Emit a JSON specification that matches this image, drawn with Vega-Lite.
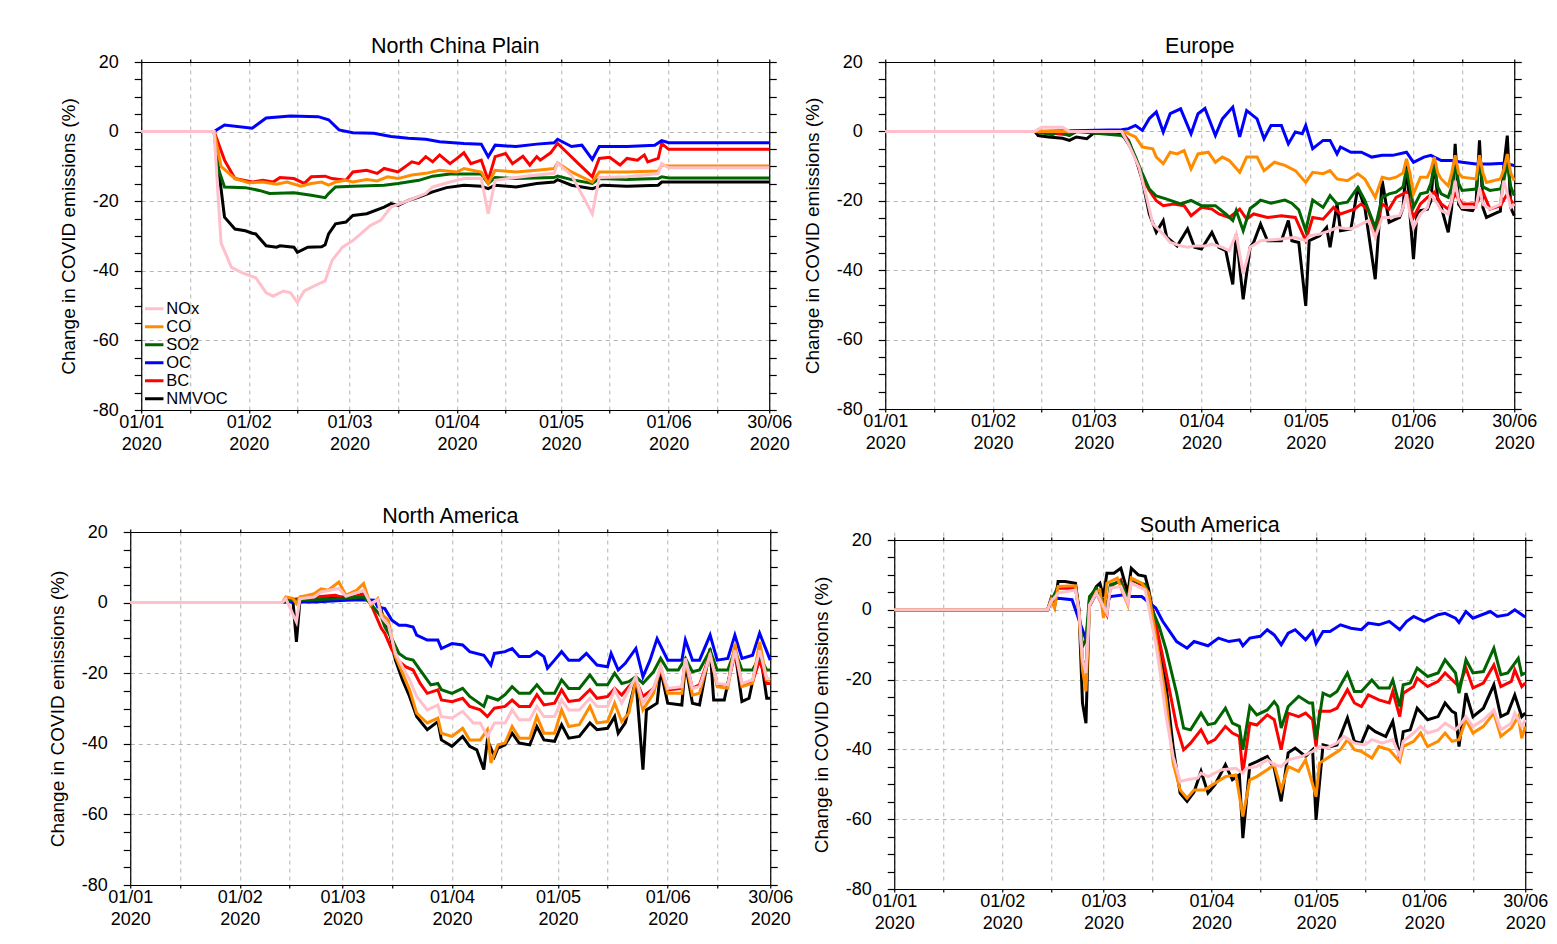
{
  "$schema": "https://vega.github.io/schema/vega-lite/v6.json",
  "padding": {"left": 48, "top": 35, "right": 5, "bottom": 5},
  "background": "white",
  "config": {
    "font": "Liberation Sans",
    "view": {"stroke": null},
    "axis": {
      "domainColor": "#000000", "domainWidth": 1.2, "tickColor": "#000000", "tickWidth": 1.2,
      "labelFont": "Liberation Sans", "labelFontSize": 18, "labelColor": "#000000",
      "titleFont": "Liberation Sans", "titleFontSize": 19, "titleFontWeight": "normal", "titleColor": "#000000",
      "gridColor": "#b4b4b4", "gridDash": [4, 4], "gridWidth": 1,
      "labelFlush": false, "labelOverlap": false
    },
    "axisLeft": {"tickSize": 7, "labelPadding": 16, "titlePadding": 14},
    "axisRight": {"tickSize": 7, "labels": false, "grid": false},
    "axisBottom": {"tickSize": 3, "labelPadding": 0, "labelLineHeight": 22},
    "axisTop": {"tickSize": 3, "labels": false, "grid": false},
    "title": {"font": "Liberation Sans", "fontSize": 21.5, "fontWeight": "normal", "color": "#000000", "offset": -4, "anchor": "middle", "frame": "group"},
    "line": {"strokeWidth": 3}
  },
  "datasets": {
    "ncp": [
      {"s":"NMVOC","t":"2020-01-01","v":0},{"s":"NMVOC","t":"2020-01-22","v":0},{"s":"NMVOC","t":"2020-01-25","v":-24.6},{"s":"NMVOC","t":"2020-01-28","v":-28},{"s":"NMVOC","t":"2020-01-31","v":-28.5},{"s":"NMVOC","t":"2020-02-02","v":-29.2},{"s":"NMVOC","t":"2020-02-03","v":-29.4},{"s":"NMVOC","t":"2020-02-06","v":-32.8},{"s":"NMVOC","t":"2020-02-09","v":-33.2},{"s":"NMVOC","t":"2020-02-10","v":-32.8},{"s":"NMVOC","t":"2020-02-14","v":-33.2},{"s":"NMVOC","t":"2020-02-15","v":-34.7},{"s":"NMVOC","t":"2020-02-18","v":-33.2},{"s":"NMVOC","t":"2020-02-22","v":-33.1},{"s":"NMVOC","t":"2020-02-23","v":-32.5},{"s":"NMVOC","t":"2020-02-24","v":-29.4},{"s":"NMVOC","t":"2020-02-26","v":-26.5},{"s":"NMVOC","t":"2020-02-29","v":-26},{"s":"NMVOC","t":"2020-03-02","v":-24.1},{"s":"NMVOC","t":"2020-03-06","v":-23.6},{"s":"NMVOC","t":"2020-03-11","v":-21.7},{"s":"NMVOC","t":"2020-03-13","v":-20.7},{"s":"NMVOC","t":"2020-03-15","v":-21.2},{"s":"NMVOC","t":"2020-03-18","v":-19.8},{"s":"NMVOC","t":"2020-03-21","v":-18.8},{"s":"NMVOC","t":"2020-03-25","v":-17.3},{"s":"NMVOC","t":"2020-03-29","v":-16.1},{"s":"NMVOC","t":"2020-04-03","v":-15.4},{"s":"NMVOC","t":"2020-04-08","v":-15.7},{"s":"NMVOC","t":"2020-04-10","v":-16.4},{"s":"NMVOC","t":"2020-04-12","v":-15.4},{"s":"NMVOC","t":"2020-04-18","v":-15.9},{"s":"NMVOC","t":"2020-04-24","v":-14.9},{"s":"NMVOC","t":"2020-04-29","v":-14.5},{"s":"NMVOC","t":"2020-04-30","v":-13.8},{"s":"NMVOC","t":"2020-05-04","v":-15.4},{"s":"NMVOC","t":"2020-05-10","v":-16.4},{"s":"NMVOC","t":"2020-05-13","v":-15.4},{"s":"NMVOC","t":"2020-05-20","v":-15.7},{"s":"NMVOC","t":"2020-05-29","v":-15.4},{"s":"NMVOC","t":"2020-05-30","v":-14.5},{"s":"NMVOC","t":"2020-06-30","v":-14.5},
      {"s":"BC","t":"2020-01-01","v":0},{"s":"BC","t":"2020-01-22","v":0},{"s":"BC","t":"2020-01-25","v":-8.2},{"s":"BC","t":"2020-01-28","v":-13.5},{"s":"BC","t":"2020-02-02","v":-14.5},{"s":"BC","t":"2020-02-05","v":-14},{"s":"BC","t":"2020-02-08","v":-14.5},{"s":"BC","t":"2020-02-10","v":-13.2},{"s":"BC","t":"2020-02-14","v":-13.5},{"s":"BC","t":"2020-02-17","v":-14.9},{"s":"BC","t":"2020-02-19","v":-13},{"s":"BC","t":"2020-02-23","v":-12.8},{"s":"BC","t":"2020-02-25","v":-13.5},{"s":"BC","t":"2020-02-29","v":-14},{"s":"BC","t":"2020-03-02","v":-11.6},{"s":"BC","t":"2020-03-06","v":-11.1},{"s":"BC","t":"2020-03-09","v":-12},{"s":"BC","t":"2020-03-11","v":-10.6},{"s":"BC","t":"2020-03-15","v":-11.6},{"s":"BC","t":"2020-03-19","v":-8.7},{"s":"BC","t":"2020-03-21","v":-9.2},{"s":"BC","t":"2020-03-23","v":-7.2},{"s":"BC","t":"2020-03-25","v":-8.7},{"s":"BC","t":"2020-03-27","v":-6.7},{"s":"BC","t":"2020-03-30","v":-9.2},{"s":"BC","t":"2020-04-01","v":-7.7},{"s":"BC","t":"2020-04-03","v":-6.1},{"s":"BC","t":"2020-04-05","v":-9.2},{"s":"BC","t":"2020-04-08","v":-8.2},{"s":"BC","t":"2020-04-10","v":-14},{"s":"BC","t":"2020-04-12","v":-7.2},{"s":"BC","t":"2020-04-15","v":-6.3},{"s":"BC","t":"2020-04-17","v":-9.2},{"s":"BC","t":"2020-04-20","v":-7.1},{"s":"BC","t":"2020-04-22","v":-9.6},{"s":"BC","t":"2020-04-24","v":-7.2},{"s":"BC","t":"2020-04-25","v":-8.2},{"s":"BC","t":"2020-04-28","v":-6.1},{"s":"BC","t":"2020-04-30","v":-3.4},{"s":"BC","t":"2020-05-03","v":-6.3},{"s":"BC","t":"2020-05-06","v":-9.2},{"s":"BC","t":"2020-05-10","v":-13},{"s":"BC","t":"2020-05-12","v":-7.7},{"s":"BC","t":"2020-05-15","v":-7.4},{"s":"BC","t":"2020-05-18","v":-9.6},{"s":"BC","t":"2020-05-20","v":-7.7},{"s":"BC","t":"2020-05-23","v":-8.2},{"s":"BC","t":"2020-05-25","v":-6.7},{"s":"BC","t":"2020-05-26","v":-8.7},{"s":"BC","t":"2020-05-29","v":-7.7},{"s":"BC","t":"2020-05-30","v":-3.4},{"s":"BC","t":"2020-06-01","v":-5.1},{"s":"BC","t":"2020-06-30","v":-5.1},
      {"s":"OC","t":"2020-01-01","v":0},{"s":"OC","t":"2020-01-22","v":0},{"s":"OC","t":"2020-01-25","v":1.9},{"s":"OC","t":"2020-02-02","v":1},{"s":"OC","t":"2020-02-06","v":3.9},{"s":"OC","t":"2020-02-13","v":4.5},{"s":"OC","t":"2020-02-21","v":4.3},{"s":"OC","t":"2020-02-24","v":3.4},{"s":"OC","t":"2020-02-27","v":0.5},{"s":"OC","t":"2020-03-02","v":-0.3},{"s":"OC","t":"2020-03-08","v":-0.5},{"s":"OC","t":"2020-03-13","v":-1.4},{"s":"OC","t":"2020-03-18","v":-1.9},{"s":"OC","t":"2020-03-23","v":-2.2},{"s":"OC","t":"2020-03-27","v":-2.9},{"s":"OC","t":"2020-04-03","v":-3.4},{"s":"OC","t":"2020-04-08","v":-3.6},{"s":"OC","t":"2020-04-10","v":-7.2},{"s":"OC","t":"2020-04-12","v":-3.9},{"s":"OC","t":"2020-04-18","v":-4.3},{"s":"OC","t":"2020-04-24","v":-3.6},{"s":"OC","t":"2020-04-29","v":-3.2},{"s":"OC","t":"2020-04-30","v":-2.2},{"s":"OC","t":"2020-05-04","v":-4.3},{"s":"OC","t":"2020-05-07","v":-3.9},{"s":"OC","t":"2020-05-10","v":-8},{"s":"OC","t":"2020-05-12","v":-4.3},{"s":"OC","t":"2020-05-20","v":-4.3},{"s":"OC","t":"2020-05-28","v":-3.9},{"s":"OC","t":"2020-05-30","v":-2.6},{"s":"OC","t":"2020-06-01","v":-3.2},{"s":"OC","t":"2020-06-30","v":-3.2},
      {"s":"SO2","t":"2020-01-01","v":0},{"s":"SO2","t":"2020-01-22","v":0},{"s":"SO2","t":"2020-01-23","v":-10},{"s":"SO2","t":"2020-01-25","v":-15.9},{"s":"SO2","t":"2020-01-31","v":-16.1},{"s":"SO2","t":"2020-02-04","v":-16.9},{"s":"SO2","t":"2020-02-07","v":-17.8},{"s":"SO2","t":"2020-02-14","v":-17.6},{"s":"SO2","t":"2020-02-19","v":-18.3},{"s":"SO2","t":"2020-02-23","v":-19},{"s":"SO2","t":"2020-02-24","v":-17.8},{"s":"SO2","t":"2020-02-26","v":-15.9},{"s":"SO2","t":"2020-03-02","v":-15.7},{"s":"SO2","t":"2020-03-11","v":-15.4},{"s":"SO2","t":"2020-03-15","v":-14.9},{"s":"SO2","t":"2020-03-21","v":-14},{"s":"SO2","t":"2020-03-25","v":-12.8},{"s":"SO2","t":"2020-03-30","v":-12.2},{"s":"SO2","t":"2020-04-08","v":-12.2},{"s":"SO2","t":"2020-04-10","v":-14.9},{"s":"SO2","t":"2020-04-12","v":-13.2},{"s":"SO2","t":"2020-04-18","v":-13.5},{"s":"SO2","t":"2020-04-29","v":-13.2},{"s":"SO2","t":"2020-04-30","v":-12.8},{"s":"SO2","t":"2020-05-04","v":-13.8},{"s":"SO2","t":"2020-05-10","v":-14.9},{"s":"SO2","t":"2020-05-12","v":-13.5},{"s":"SO2","t":"2020-05-20","v":-13.8},{"s":"SO2","t":"2020-05-29","v":-13.5},{"s":"SO2","t":"2020-05-30","v":-13},{"s":"SO2","t":"2020-06-01","v":-13.3},{"s":"SO2","t":"2020-06-30","v":-13.3},
      {"s":"CO","t":"2020-01-01","v":0},{"s":"CO","t":"2020-01-22","v":0},{"s":"CO","t":"2020-01-24","v":-10},{"s":"CO","t":"2020-01-28","v":-13.5},{"s":"CO","t":"2020-02-01","v":-14.7},{"s":"CO","t":"2020-02-05","v":-14.5},{"s":"CO","t":"2020-02-09","v":-15.1},{"s":"CO","t":"2020-02-12","v":-14.5},{"s":"CO","t":"2020-02-16","v":-15.7},{"s":"CO","t":"2020-02-19","v":-14.9},{"s":"CO","t":"2020-02-22","v":-14.5},{"s":"CO","t":"2020-02-24","v":-15.4},{"s":"CO","t":"2020-02-26","v":-14.5},{"s":"CO","t":"2020-02-29","v":-14},{"s":"CO","t":"2020-03-02","v":-14.5},{"s":"CO","t":"2020-03-06","v":-13.8},{"s":"CO","t":"2020-03-09","v":-14.2},{"s":"CO","t":"2020-03-12","v":-13},{"s":"CO","t":"2020-03-15","v":-13.5},{"s":"CO","t":"2020-03-19","v":-12.5},{"s":"CO","t":"2020-03-23","v":-12},{"s":"CO","t":"2020-03-27","v":-11.1},{"s":"CO","t":"2020-04-01","v":-11.6},{"s":"CO","t":"2020-04-03","v":-10.6},{"s":"CO","t":"2020-04-08","v":-11.6},{"s":"CO","t":"2020-04-10","v":-14.9},{"s":"CO","t":"2020-04-12","v":-11.1},{"s":"CO","t":"2020-04-18","v":-11.6},{"s":"CO","t":"2020-04-24","v":-11.1},{"s":"CO","t":"2020-04-29","v":-10.6},{"s":"CO","t":"2020-04-30","v":-9},{"s":"CO","t":"2020-05-04","v":-11.6},{"s":"CO","t":"2020-05-10","v":-14.5},{"s":"CO","t":"2020-05-12","v":-11.6},{"s":"CO","t":"2020-05-20","v":-11.6},{"s":"CO","t":"2020-05-29","v":-11.3},{"s":"CO","t":"2020-05-30","v":-9.6},{"s":"CO","t":"2020-06-01","v":-9.9},{"s":"CO","t":"2020-06-30","v":-9.9},
      {"s":"NOx","t":"2020-01-01","v":0},{"s":"NOx","t":"2020-01-22","v":0},{"s":"NOx","t":"2020-01-24","v":-32},{"s":"NOx","t":"2020-01-27","v":-39},{"s":"NOx","t":"2020-01-30","v":-40.5},{"s":"NOx","t":"2020-02-03","v":-42},{"s":"NOx","t":"2020-02-06","v":-46.3},{"s":"NOx","t":"2020-02-08","v":-47.3},{"s":"NOx","t":"2020-02-11","v":-45.8},{"s":"NOx","t":"2020-02-13","v":-46.3},{"s":"NOx","t":"2020-02-15","v":-49.1},{"s":"NOx","t":"2020-02-17","v":-45.8},{"s":"NOx","t":"2020-02-20","v":-44.3},{"s":"NOx","t":"2020-02-23","v":-42.9},{"s":"NOx","t":"2020-02-25","v":-37},{"s":"NOx","t":"2020-02-28","v":-33.2},{"s":"NOx","t":"2020-03-02","v":-31.3},{"s":"NOx","t":"2020-03-07","v":-27},{"s":"NOx","t":"2020-03-10","v":-25.5},{"s":"NOx","t":"2020-03-13","v":-21.7},{"s":"NOx","t":"2020-03-18","v":-19.8},{"s":"NOx","t":"2020-03-23","v":-17.8},{"s":"NOx","t":"2020-03-25","v":-15.9},{"s":"NOx","t":"2020-03-30","v":-14.5},{"s":"NOx","t":"2020-04-03","v":-13.5},{"s":"NOx","t":"2020-04-08","v":-13.5},{"s":"NOx","t":"2020-04-10","v":-23.6},{"s":"NOx","t":"2020-04-12","v":-14},{"s":"NOx","t":"2020-04-18","v":-13.2},{"s":"NOx","t":"2020-04-24","v":-12.5},{"s":"NOx","t":"2020-04-29","v":-12},{"s":"NOx","t":"2020-04-30","v":-9},{"s":"NOx","t":"2020-05-04","v":-12.5},{"s":"NOx","t":"2020-05-10","v":-23.6},{"s":"NOx","t":"2020-05-12","v":-13.2},{"s":"NOx","t":"2020-05-20","v":-13},{"s":"NOx","t":"2020-05-29","v":-12.1},{"s":"NOx","t":"2020-05-30","v":-9.2},{"s":"NOx","t":"2020-06-01","v":-10.4},{"s":"NOx","t":"2020-06-30","v":-10.4}
    ],
    "eur": [
      {"s":"NMVOC","t":"2020-01-01","v":0},{"s":"NMVOC","t":"2020-02-13","v":0},{"s":"NMVOC","t":"2020-02-14","v":-1.2},{"s":"NMVOC","t":"2020-02-17","v":-1.6},{"s":"NMVOC","t":"2020-02-21","v":-2},{"s":"NMVOC","t":"2020-02-23","v":-2.6},{"s":"NMVOC","t":"2020-02-25","v":-1.6},{"s":"NMVOC","t":"2020-02-28","v":-2.1},{"s":"NMVOC","t":"2020-03-01","v":-0.5},{"s":"NMVOC","t":"2020-03-07","v":-0.2},{"s":"NMVOC","t":"2020-03-09","v":-0.5},{"s":"NMVOC","t":"2020-03-11","v":-3.6},{"s":"NMVOC","t":"2020-03-13","v":-7.5},{"s":"NMVOC","t":"2020-03-15","v":-14.2},{"s":"NMVOC","t":"2020-03-17","v":-23.8},{"s":"NMVOC","t":"2020-03-19","v":-29.1},{"s":"NMVOC","t":"2020-03-21","v":-25.7},{"s":"NMVOC","t":"2020-03-22","v":-30.5},{"s":"NMVOC","t":"2020-03-25","v":-33},{"s":"NMVOC","t":"2020-03-28","v":-28.1},{"s":"NMVOC","t":"2020-03-30","v":-33.4},{"s":"NMVOC","t":"2020-04-01","v":-33.9},{"s":"NMVOC","t":"2020-04-04","v":-29.1},{"s":"NMVOC","t":"2020-04-06","v":-33.4},{"s":"NMVOC","t":"2020-04-08","v":-34.4},{"s":"NMVOC","t":"2020-04-10","v":-44.1},{"s":"NMVOC","t":"2020-04-11","v":-29.6},{"s":"NMVOC","t":"2020-04-13","v":-48.4},{"s":"NMVOC","t":"2020-04-15","v":-33.4},{"s":"NMVOC","t":"2020-04-16","v":-32},{"s":"NMVOC","t":"2020-04-18","v":-26.7},{"s":"NMVOC","t":"2020-04-20","v":-31.5},{"s":"NMVOC","t":"2020-04-24","v":-31.5},{"s":"NMVOC","t":"2020-04-26","v":-25.7},{"s":"NMVOC","t":"2020-04-27","v":-31.5},{"s":"NMVOC","t":"2020-04-29","v":-32},{"s":"NMVOC","t":"2020-05-01","v":-50.3},{"s":"NMVOC","t":"2020-05-02","v":-31.5},{"s":"NMVOC","t":"2020-05-05","v":-30.1},{"s":"NMVOC","t":"2020-05-07","v":-27.7},{"s":"NMVOC","t":"2020-05-08","v":-33.4},{"s":"NMVOC","t":"2020-05-10","v":-20.9},{"s":"NMVOC","t":"2020-05-11","v":-28.6},{"s":"NMVOC","t":"2020-05-14","v":-28.1},{"s":"NMVOC","t":"2020-05-16","v":-16.1},{"s":"NMVOC","t":"2020-05-18","v":-21.9},{"s":"NMVOC","t":"2020-05-21","v":-42.6},{"s":"NMVOC","t":"2020-05-23","v":-14.2},{"s":"NMVOC","t":"2020-05-25","v":-26.2},{"s":"NMVOC","t":"2020-05-28","v":-24.8},{"s":"NMVOC","t":"2020-05-29","v":-22},{"s":"NMVOC","t":"2020-05-30","v":-8.9},{"s":"NMVOC","t":"2020-05-31","v":-24},{"s":"NMVOC","t":"2020-06-01","v":-36.8},{"s":"NMVOC","t":"2020-06-02","v":-24},{"s":"NMVOC","t":"2020-06-03","v":-22.8},{"s":"NMVOC","t":"2020-06-05","v":-22.4},{"s":"NMVOC","t":"2020-06-06","v":-20},{"s":"NMVOC","t":"2020-06-07","v":-7.9},{"s":"NMVOC","t":"2020-06-08","v":-20},{"s":"NMVOC","t":"2020-06-09","v":-21.9},{"s":"NMVOC","t":"2020-06-11","v":-29.1},{"s":"NMVOC","t":"2020-06-12","v":-22},{"s":"NMVOC","t":"2020-06-13","v":-3.6},{"s":"NMVOC","t":"2020-06-14","v":-21},{"s":"NMVOC","t":"2020-06-15","v":-22.4},{"s":"NMVOC","t":"2020-06-18","v":-22.8},{"s":"NMVOC","t":"2020-06-19","v":-21},{"s":"NMVOC","t":"2020-06-20","v":-2.6},{"s":"NMVOC","t":"2020-06-21","v":-22},{"s":"NMVOC","t":"2020-06-22","v":-24.8},{"s":"NMVOC","t":"2020-06-25","v":-23.4},{"s":"NMVOC","t":"2020-06-26","v":-23},{"s":"NMVOC","t":"2020-06-27","v":-10},{"s":"NMVOC","t":"2020-06-28","v":-1.2},{"s":"NMVOC","t":"2020-06-29","v":-22},{"s":"NMVOC","t":"2020-06-30","v":-24.3},
      {"s":"BC","t":"2020-01-01","v":0},{"s":"BC","t":"2020-02-13","v":0},{"s":"BC","t":"2020-02-23","v":-1},{"s":"BC","t":"2020-02-25","v":0},{"s":"BC","t":"2020-03-09","v":0},{"s":"BC","t":"2020-03-11","v":-2.6},{"s":"BC","t":"2020-03-13","v":-7.9},{"s":"BC","t":"2020-03-15","v":-13.2},{"s":"BC","t":"2020-03-17","v":-17},{"s":"BC","t":"2020-03-19","v":-20},{"s":"BC","t":"2020-03-21","v":-21.4},{"s":"BC","t":"2020-03-24","v":-20.9},{"s":"BC","t":"2020-03-27","v":-21.4},{"s":"BC","t":"2020-03-29","v":-24.3},{"s":"BC","t":"2020-04-01","v":-21.9},{"s":"BC","t":"2020-04-04","v":-22.4},{"s":"BC","t":"2020-04-06","v":-23.8},{"s":"BC","t":"2020-04-09","v":-24.8},{"s":"BC","t":"2020-04-12","v":-22.4},{"s":"BC","t":"2020-04-14","v":-25.3},{"s":"BC","t":"2020-04-16","v":-23.8},{"s":"BC","t":"2020-04-20","v":-24.8},{"s":"BC","t":"2020-04-24","v":-24.3},{"s":"BC","t":"2020-04-28","v":-24.8},{"s":"BC","t":"2020-05-01","v":-31.5},{"s":"BC","t":"2020-05-03","v":-24.8},{"s":"BC","t":"2020-05-06","v":-25.3},{"s":"BC","t":"2020-05-09","v":-21.9},{"s":"BC","t":"2020-05-11","v":-23.8},{"s":"BC","t":"2020-05-15","v":-22.4},{"s":"BC","t":"2020-05-17","v":-20.9},{"s":"BC","t":"2020-05-19","v":-22.8},{"s":"BC","t":"2020-05-21","v":-28.6},{"s":"BC","t":"2020-05-23","v":-20.9},{"s":"BC","t":"2020-05-25","v":-22.4},{"s":"BC","t":"2020-05-27","v":-19},{"s":"BC","t":"2020-05-30","v":-17.5},{"s":"BC","t":"2020-06-01","v":-24.8},{"s":"BC","t":"2020-06-03","v":-20.9},{"s":"BC","t":"2020-06-05","v":-19},{"s":"BC","t":"2020-06-07","v":-17.5},{"s":"BC","t":"2020-06-09","v":-20.9},{"s":"BC","t":"2020-06-11","v":-22.4},{"s":"BC","t":"2020-06-13","v":-18},{"s":"BC","t":"2020-06-15","v":-20.9},{"s":"BC","t":"2020-06-19","v":-20.9},{"s":"BC","t":"2020-06-21","v":-17.5},{"s":"BC","t":"2020-06-23","v":-22.4},{"s":"BC","t":"2020-06-26","v":-21.4},{"s":"BC","t":"2020-06-28","v":-18},{"s":"BC","t":"2020-06-30","v":-21.4},
      {"s":"OC","t":"2020-01-01","v":0},{"s":"OC","t":"2020-02-13","v":0},{"s":"OC","t":"2020-03-09","v":0.5},{"s":"OC","t":"2020-03-11","v":0.8},{"s":"OC","t":"2020-03-13","v":1.7},{"s":"OC","t":"2020-03-15","v":0.3},{"s":"OC","t":"2020-03-17","v":3.7},{"s":"OC","t":"2020-03-19","v":5.6},{"s":"OC","t":"2020-03-21","v":-0.2},{"s":"OC","t":"2020-03-23","v":5.1},{"s":"OC","t":"2020-03-26","v":6.5},{"s":"OC","t":"2020-03-29","v":-0.7},{"s":"OC","t":"2020-03-31","v":5.1},{"s":"OC","t":"2020-04-02","v":6.6},{"s":"OC","t":"2020-04-05","v":-1.2},{"s":"OC","t":"2020-04-07","v":3.6},{"s":"OC","t":"2020-04-10","v":7},{"s":"OC","t":"2020-04-12","v":-1.6},{"s":"OC","t":"2020-04-14","v":6},{"s":"OC","t":"2020-04-17","v":3.6},{"s":"OC","t":"2020-04-19","v":-2.1},{"s":"OC","t":"2020-04-21","v":1.7},{"s":"OC","t":"2020-04-24","v":1.7},{"s":"OC","t":"2020-04-26","v":-3.6},{"s":"OC","t":"2020-04-28","v":-0.2},{"s":"OC","t":"2020-04-30","v":-0.7},{"s":"OC","t":"2020-05-01","v":1.7},{"s":"OC","t":"2020-05-03","v":-5},{"s":"OC","t":"2020-05-06","v":-2.6},{"s":"OC","t":"2020-05-08","v":-2.6},{"s":"OC","t":"2020-05-10","v":-6.5},{"s":"OC","t":"2020-05-11","v":-4.5},{"s":"OC","t":"2020-05-14","v":-6},{"s":"OC","t":"2020-05-17","v":-6},{"s":"OC","t":"2020-05-20","v":-7.4},{"s":"OC","t":"2020-05-23","v":-6.9},{"s":"OC","t":"2020-05-26","v":-6.9},{"s":"OC","t":"2020-05-30","v":-6},{"s":"OC","t":"2020-06-01","v":-8.9},{"s":"OC","t":"2020-06-04","v":-7.4},{"s":"OC","t":"2020-06-06","v":-6.9},{"s":"OC","t":"2020-06-09","v":-8.4},{"s":"OC","t":"2020-06-12","v":-8.4},{"s":"OC","t":"2020-06-15","v":-8.9},{"s":"OC","t":"2020-06-19","v":-9.4},{"s":"OC","t":"2020-06-23","v":-9.4},{"s":"OC","t":"2020-06-27","v":-9.2},{"s":"OC","t":"2020-06-30","v":-9.8},
      {"s":"SO2","t":"2020-01-01","v":0},{"s":"SO2","t":"2020-02-13","v":0},{"s":"SO2","t":"2020-02-18","v":-1},{"s":"SO2","t":"2020-02-20","v":0},{"s":"SO2","t":"2020-02-23","v":-1.2},{"s":"SO2","t":"2020-02-25","v":0},{"s":"SO2","t":"2020-03-09","v":-1.2},{"s":"SO2","t":"2020-03-11","v":-2.6},{"s":"SO2","t":"2020-03-13","v":-7.4},{"s":"SO2","t":"2020-03-15","v":-12.2},{"s":"SO2","t":"2020-03-17","v":-16.6},{"s":"SO2","t":"2020-03-19","v":-18.6},{"s":"SO2","t":"2020-03-22","v":-19.5},{"s":"SO2","t":"2020-03-26","v":-20.9},{"s":"SO2","t":"2020-03-29","v":-19.9},{"s":"SO2","t":"2020-04-01","v":-21.4},{"s":"SO2","t":"2020-04-05","v":-21.4},{"s":"SO2","t":"2020-04-08","v":-23.8},{"s":"SO2","t":"2020-04-10","v":-25.7},{"s":"SO2","t":"2020-04-11","v":-22.8},{"s":"SO2","t":"2020-04-13","v":-28.6},{"s":"SO2","t":"2020-04-15","v":-22.2},{"s":"SO2","t":"2020-04-17","v":-20.7},{"s":"SO2","t":"2020-04-18","v":-19.8},{"s":"SO2","t":"2020-04-21","v":-20.7},{"s":"SO2","t":"2020-04-25","v":-19.8},{"s":"SO2","t":"2020-04-27","v":-20.7},{"s":"SO2","t":"2020-04-29","v":-22.6},{"s":"SO2","t":"2020-05-01","v":-28.6},{"s":"SO2","t":"2020-05-03","v":-19.8},{"s":"SO2","t":"2020-05-06","v":-21.9},{"s":"SO2","t":"2020-05-08","v":-18.5},{"s":"SO2","t":"2020-05-10","v":-20.9},{"s":"SO2","t":"2020-05-13","v":-20.4},{"s":"SO2","t":"2020-05-16","v":-16.1},{"s":"SO2","t":"2020-05-18","v":-19.9},{"s":"SO2","t":"2020-05-21","v":-27.7},{"s":"SO2","t":"2020-05-23","v":-19},{"s":"SO2","t":"2020-05-25","v":-18},{"s":"SO2","t":"2020-05-27","v":-17.5},{"s":"SO2","t":"2020-05-29","v":-16},{"s":"SO2","t":"2020-05-30","v":-10.8},{"s":"SO2","t":"2020-05-31","v":-16},{"s":"SO2","t":"2020-06-01","v":-21.9},{"s":"SO2","t":"2020-06-03","v":-18},{"s":"SO2","t":"2020-06-05","v":-17.5},{"s":"SO2","t":"2020-06-06","v":-15},{"s":"SO2","t":"2020-06-07","v":-9.8},{"s":"SO2","t":"2020-06-08","v":-16},{"s":"SO2","t":"2020-06-09","v":-18},{"s":"SO2","t":"2020-06-11","v":-19},{"s":"SO2","t":"2020-06-12","v":-16},{"s":"SO2","t":"2020-06-13","v":-7.9},{"s":"SO2","t":"2020-06-14","v":-15},{"s":"SO2","t":"2020-06-15","v":-17},{"s":"SO2","t":"2020-06-19","v":-16.6},{"s":"SO2","t":"2020-06-20","v":-8.4},{"s":"SO2","t":"2020-06-21","v":-16},{"s":"SO2","t":"2020-06-23","v":-17},{"s":"SO2","t":"2020-06-26","v":-16.6},{"s":"SO2","t":"2020-06-27","v":-14},{"s":"SO2","t":"2020-06-28","v":-8.9},{"s":"SO2","t":"2020-06-29","v":-16},{"s":"SO2","t":"2020-06-30","v":-18.5},
      {"s":"CO","t":"2020-01-01","v":0},{"s":"CO","t":"2020-02-13","v":0},{"s":"CO","t":"2020-03-09","v":0},{"s":"CO","t":"2020-03-10","v":-0.2},{"s":"CO","t":"2020-03-13","v":-1.6},{"s":"CO","t":"2020-03-15","v":-4.5},{"s":"CO","t":"2020-03-18","v":-5},{"s":"CO","t":"2020-03-19","v":-7.4},{"s":"CO","t":"2020-03-21","v":-9.3},{"s":"CO","t":"2020-03-23","v":-6},{"s":"CO","t":"2020-03-25","v":-6.5},{"s":"CO","t":"2020-03-27","v":-5.5},{"s":"CO","t":"2020-03-29","v":-10.8},{"s":"CO","t":"2020-03-31","v":-6.5},{"s":"CO","t":"2020-04-03","v":-6},{"s":"CO","t":"2020-04-05","v":-8.9},{"s":"CO","t":"2020-04-07","v":-7.4},{"s":"CO","t":"2020-04-09","v":-8.4},{"s":"CO","t":"2020-04-12","v":-11.8},{"s":"CO","t":"2020-04-14","v":-7.4},{"s":"CO","t":"2020-04-17","v":-7.4},{"s":"CO","t":"2020-04-19","v":-11.3},{"s":"CO","t":"2020-04-22","v":-8.9},{"s":"CO","t":"2020-04-25","v":-9.8},{"s":"CO","t":"2020-04-28","v":-11.3},{"s":"CO","t":"2020-05-01","v":-14.7},{"s":"CO","t":"2020-05-03","v":-11.8},{"s":"CO","t":"2020-05-06","v":-12.2},{"s":"CO","t":"2020-05-08","v":-11.3},{"s":"CO","t":"2020-05-10","v":-13.7},{"s":"CO","t":"2020-05-13","v":-14.2},{"s":"CO","t":"2020-05-16","v":-12.2},{"s":"CO","t":"2020-05-18","v":-13.7},{"s":"CO","t":"2020-05-21","v":-19},{"s":"CO","t":"2020-05-23","v":-13.2},{"s":"CO","t":"2020-05-25","v":-13.7},{"s":"CO","t":"2020-05-27","v":-13.2},{"s":"CO","t":"2020-05-29","v":-12},{"s":"CO","t":"2020-05-30","v":-7.9},{"s":"CO","t":"2020-05-31","v":-12},{"s":"CO","t":"2020-06-01","v":-18},{"s":"CO","t":"2020-06-03","v":-13.2},{"s":"CO","t":"2020-06-05","v":-13.2},{"s":"CO","t":"2020-06-06","v":-11},{"s":"CO","t":"2020-06-07","v":-7.4},{"s":"CO","t":"2020-06-08","v":-12},{"s":"CO","t":"2020-06-09","v":-13.7},{"s":"CO","t":"2020-06-11","v":-15.7},{"s":"CO","t":"2020-06-12","v":-12},{"s":"CO","t":"2020-06-13","v":-6.9},{"s":"CO","t":"2020-06-14","v":-12},{"s":"CO","t":"2020-06-15","v":-13.2},{"s":"CO","t":"2020-06-19","v":-13.7},{"s":"CO","t":"2020-06-20","v":-6.9},{"s":"CO","t":"2020-06-21","v":-12},{"s":"CO","t":"2020-06-22","v":-14.7},{"s":"CO","t":"2020-06-26","v":-13.7},{"s":"CO","t":"2020-06-27","v":-11},{"s":"CO","t":"2020-06-28","v":-6.5},{"s":"CO","t":"2020-06-29","v":-12},{"s":"CO","t":"2020-06-30","v":-14.2},
      {"s":"NOx","t":"2020-01-01","v":0},{"s":"NOx","t":"2020-02-13","v":0},{"s":"NOx","t":"2020-02-15","v":1.2},{"s":"NOx","t":"2020-02-21","v":1.2},{"s":"NOx","t":"2020-02-23","v":0},{"s":"NOx","t":"2020-03-09","v":0},{"s":"NOx","t":"2020-03-11","v":-3.6},{"s":"NOx","t":"2020-03-14","v":-10.3},{"s":"NOx","t":"2020-03-16","v":-18.1},{"s":"NOx","t":"2020-03-18","v":-26.7},{"s":"NOx","t":"2020-03-21","v":-29.6},{"s":"NOx","t":"2020-03-23","v":-32},{"s":"NOx","t":"2020-03-26","v":-33},{"s":"NOx","t":"2020-03-28","v":-33.4},{"s":"NOx","t":"2020-03-30","v":-33},{"s":"NOx","t":"2020-04-02","v":-33},{"s":"NOx","t":"2020-04-04","v":-32.5},{"s":"NOx","t":"2020-04-07","v":-33.4},{"s":"NOx","t":"2020-04-09","v":-34.4},{"s":"NOx","t":"2020-04-11","v":-29.6},{"s":"NOx","t":"2020-04-13","v":-41.1},{"s":"NOx","t":"2020-04-15","v":-33.4},{"s":"NOx","t":"2020-04-18","v":-31.5},{"s":"NOx","t":"2020-04-24","v":-31},{"s":"NOx","t":"2020-04-28","v":-30.5},{"s":"NOx","t":"2020-05-01","v":-31.5},{"s":"NOx","t":"2020-05-02","v":-30.1},{"s":"NOx","t":"2020-05-05","v":-29.6},{"s":"NOx","t":"2020-05-08","v":-28.6},{"s":"NOx","t":"2020-05-10","v":-27.7},{"s":"NOx","t":"2020-05-14","v":-28.1},{"s":"NOx","t":"2020-05-16","v":-27.2},{"s":"NOx","t":"2020-05-19","v":-25.7},{"s":"NOx","t":"2020-05-21","v":-30.5},{"s":"NOx","t":"2020-05-23","v":-24.8},{"s":"NOx","t":"2020-05-25","v":-24.8},{"s":"NOx","t":"2020-05-28","v":-24.3},{"s":"NOx","t":"2020-05-29","v":-22},{"s":"NOx","t":"2020-05-30","v":-18.1},{"s":"NOx","t":"2020-05-31","v":-24},{"s":"NOx","t":"2020-06-01","v":-27.7},{"s":"NOx","t":"2020-06-03","v":-23.8},{"s":"NOx","t":"2020-06-05","v":-22},{"s":"NOx","t":"2020-06-06","v":-18.1},{"s":"NOx","t":"2020-06-08","v":-21},{"s":"NOx","t":"2020-06-09","v":-22.8},{"s":"NOx","t":"2020-06-11","v":-23.8},{"s":"NOx","t":"2020-06-12","v":-20},{"s":"NOx","t":"2020-06-13","v":-14.2},{"s":"NOx","t":"2020-06-14","v":-20},{"s":"NOx","t":"2020-06-15","v":-21.9},{"s":"NOx","t":"2020-06-19","v":-21.9},{"s":"NOx","t":"2020-06-20","v":-16.1},{"s":"NOx","t":"2020-06-21","v":-21},{"s":"NOx","t":"2020-06-23","v":-22.4},{"s":"NOx","t":"2020-06-26","v":-21},{"s":"NOx","t":"2020-06-27","v":-14.2},{"s":"NOx","t":"2020-06-29","v":-21.9},{"s":"NOx","t":"2020-06-30","v":-20.9}
    ],
    "nam": [
      {"s":"NMVOC","t":"2020-01-01","v":0},{"s":"NMVOC","t":"2020-02-13","v":0},{"s":"NMVOC","t":"2020-02-14","v":0.7},{"s":"NMVOC","t":"2020-02-16","v":0.7},{"s":"NMVOC","t":"2020-02-17","v":-11.1},{"s":"NMVOC","t":"2020-02-18","v":0.7},{"s":"NMVOC","t":"2020-02-22","v":1.1},{"s":"NMVOC","t":"2020-02-26","v":1.1},{"s":"NMVOC","t":"2020-03-01","v":1.6},{"s":"NMVOC","t":"2020-03-05","v":1.1},{"s":"NMVOC","t":"2020-03-08","v":1.6},{"s":"NMVOC","t":"2020-03-09","v":-0.3},{"s":"NMVOC","t":"2020-03-11","v":0.7},{"s":"NMVOC","t":"2020-03-12","v":-2.2},{"s":"NMVOC","t":"2020-03-13","v":-6},{"s":"NMVOC","t":"2020-03-14","v":-6.9},{"s":"NMVOC","t":"2020-03-16","v":-16.3},{"s":"NMVOC","t":"2020-03-18","v":-21.9},{"s":"NMVOC","t":"2020-03-20","v":-26.6},{"s":"NMVOC","t":"2020-03-22","v":-32.3},{"s":"NMVOC","t":"2020-03-25","v":-36},{"s":"NMVOC","t":"2020-03-28","v":-33.7},{"s":"NMVOC","t":"2020-03-29","v":-38.9},{"s":"NMVOC","t":"2020-04-01","v":-40.7},{"s":"NMVOC","t":"2020-04-04","v":-37.9},{"s":"NMVOC","t":"2020-04-06","v":-40.7},{"s":"NMVOC","t":"2020-04-08","v":-41.7},{"s":"NMVOC","t":"2020-04-10","v":-47.3},{"s":"NMVOC","t":"2020-04-11","v":-38.9},{"s":"NMVOC","t":"2020-04-13","v":-43.6},{"s":"NMVOC","t":"2020-04-14","v":-41.2},{"s":"NMVOC","t":"2020-04-16","v":-40.3},{"s":"NMVOC","t":"2020-04-18","v":-37},{"s":"NMVOC","t":"2020-04-20","v":-39.8},{"s":"NMVOC","t":"2020-04-23","v":-40.3},{"s":"NMVOC","t":"2020-04-25","v":-35.1},{"s":"NMVOC","t":"2020-04-27","v":-38.9},{"s":"NMVOC","t":"2020-04-30","v":-39.3},{"s":"NMVOC","t":"2020-05-02","v":-34.6},{"s":"NMVOC","t":"2020-05-04","v":-38.4},{"s":"NMVOC","t":"2020-05-07","v":-37.9},{"s":"NMVOC","t":"2020-05-10","v":-34.1},{"s":"NMVOC","t":"2020-05-12","v":-36},{"s":"NMVOC","t":"2020-05-15","v":-35.6},{"s":"NMVOC","t":"2020-05-17","v":-32.3},{"s":"NMVOC","t":"2020-05-18","v":-37},{"s":"NMVOC","t":"2020-05-20","v":-34.1},{"s":"NMVOC","t":"2020-05-23","v":-21.9},{"s":"NMVOC","t":"2020-05-25","v":-47.3},{"s":"NMVOC","t":"2020-05-26","v":-30.4},{"s":"NMVOC","t":"2020-05-29","v":-28.5},{"s":"NMVOC","t":"2020-05-30","v":-19.1},{"s":"NMVOC","t":"2020-06-01","v":-28.5},{"s":"NMVOC","t":"2020-06-05","v":-29},{"s":"NMVOC","t":"2020-06-06","v":-17.2},{"s":"NMVOC","t":"2020-06-08","v":-28.5},{"s":"NMVOC","t":"2020-06-10","v":-29},{"s":"NMVOC","t":"2020-06-13","v":-13},{"s":"NMVOC","t":"2020-06-14","v":-27.6},{"s":"NMVOC","t":"2020-06-17","v":-27.6},{"s":"NMVOC","t":"2020-06-20","v":-13.5},{"s":"NMVOC","t":"2020-06-22","v":-28},{"s":"NMVOC","t":"2020-06-24","v":-27.1},{"s":"NMVOC","t":"2020-06-27","v":-13},{"s":"NMVOC","t":"2020-06-29","v":-27.1},{"s":"NMVOC","t":"2020-06-30","v":-27.1},
      {"s":"BC","t":"2020-01-01","v":0},{"s":"BC","t":"2020-02-13","v":0},{"s":"BC","t":"2020-02-14","v":0.7},{"s":"BC","t":"2020-02-22","v":1.6},{"s":"BC","t":"2020-02-28","v":2.1},{"s":"BC","t":"2020-03-02","v":1.1},{"s":"BC","t":"2020-03-07","v":2.5},{"s":"BC","t":"2020-03-09","v":-0.3},{"s":"BC","t":"2020-03-12","v":-7.3},{"s":"BC","t":"2020-03-13","v":-8.7},{"s":"BC","t":"2020-03-15","v":-13.4},{"s":"BC","t":"2020-03-17","v":-16.7},{"s":"BC","t":"2020-03-19","v":-18.2},{"s":"BC","t":"2020-03-21","v":-19.1},{"s":"BC","t":"2020-03-23","v":-22.9},{"s":"BC","t":"2020-03-25","v":-25.7},{"s":"BC","t":"2020-03-28","v":-24.7},{"s":"BC","t":"2020-03-29","v":-27.6},{"s":"BC","t":"2020-04-01","v":-28.1},{"s":"BC","t":"2020-04-04","v":-27.1},{"s":"BC","t":"2020-04-06","v":-29.4},{"s":"BC","t":"2020-04-09","v":-30.4},{"s":"BC","t":"2020-04-11","v":-32.3},{"s":"BC","t":"2020-04-13","v":-29.9},{"s":"BC","t":"2020-04-16","v":-29.4},{"s":"BC","t":"2020-04-18","v":-27.6},{"s":"BC","t":"2020-04-20","v":-29.4},{"s":"BC","t":"2020-04-23","v":-29.4},{"s":"BC","t":"2020-04-25","v":-26.1},{"s":"BC","t":"2020-04-27","v":-29},{"s":"BC","t":"2020-04-30","v":-28.5},{"s":"BC","t":"2020-05-02","v":-24.7},{"s":"BC","t":"2020-05-04","v":-28},{"s":"BC","t":"2020-05-07","v":-27.6},{"s":"BC","t":"2020-05-10","v":-24.7},{"s":"BC","t":"2020-05-12","v":-27.1},{"s":"BC","t":"2020-05-15","v":-26.6},{"s":"BC","t":"2020-05-17","v":-24.3},{"s":"BC","t":"2020-05-19","v":-26.2},{"s":"BC","t":"2020-05-21","v":-23.8},{"s":"BC","t":"2020-05-23","v":-21.9},{"s":"BC","t":"2020-05-25","v":-26.6},{"s":"BC","t":"2020-05-28","v":-24.3},{"s":"BC","t":"2020-05-30","v":-19.1},{"s":"BC","t":"2020-06-01","v":-24.7},{"s":"BC","t":"2020-06-05","v":-24.3},{"s":"BC","t":"2020-06-06","v":-15.8},{"s":"BC","t":"2020-06-08","v":-24.3},{"s":"BC","t":"2020-06-10","v":-23.3},{"s":"BC","t":"2020-06-13","v":-14.4},{"s":"BC","t":"2020-06-15","v":-23.3},{"s":"BC","t":"2020-06-18","v":-23.3},{"s":"BC","t":"2020-06-20","v":-14.4},{"s":"BC","t":"2020-06-22","v":-23.3},{"s":"BC","t":"2020-06-25","v":-22.4},{"s":"BC","t":"2020-06-27","v":-16.3},{"s":"BC","t":"2020-06-29","v":-22.9},{"s":"BC","t":"2020-06-30","v":-22.9},
      {"s":"OC","t":"2020-01-01","v":0},{"s":"OC","t":"2020-02-13","v":0},{"s":"OC","t":"2020-02-14","v":0.2},{"s":"OC","t":"2020-02-22","v":0.2},{"s":"OC","t":"2020-03-02","v":0.7},{"s":"OC","t":"2020-03-07","v":0.8},{"s":"OC","t":"2020-03-10","v":0.7},{"s":"OC","t":"2020-03-11","v":-1.2},{"s":"OC","t":"2020-03-13","v":-1.7},{"s":"OC","t":"2020-03-15","v":-5},{"s":"OC","t":"2020-03-17","v":-6.4},{"s":"OC","t":"2020-03-19","v":-6.4},{"s":"OC","t":"2020-03-21","v":-6.9},{"s":"OC","t":"2020-03-22","v":-9.2},{"s":"OC","t":"2020-03-25","v":-10.6},{"s":"OC","t":"2020-03-28","v":-10.6},{"s":"OC","t":"2020-03-29","v":-13},{"s":"OC","t":"2020-04-01","v":-11.6},{"s":"OC","t":"2020-04-04","v":-12},{"s":"OC","t":"2020-04-06","v":-13.9},{"s":"OC","t":"2020-04-10","v":-14.9},{"s":"OC","t":"2020-04-12","v":-17.7},{"s":"OC","t":"2020-04-13","v":-14.4},{"s":"OC","t":"2020-04-16","v":-13.9},{"s":"OC","t":"2020-04-18","v":-13},{"s":"OC","t":"2020-04-20","v":-15.3},{"s":"OC","t":"2020-04-23","v":-15.3},{"s":"OC","t":"2020-04-25","v":-13.9},{"s":"OC","t":"2020-04-27","v":-15.3},{"s":"OC","t":"2020-04-28","v":-18.6},{"s":"OC","t":"2020-04-30","v":-16.3},{"s":"OC","t":"2020-05-02","v":-13.9},{"s":"OC","t":"2020-05-04","v":-16.3},{"s":"OC","t":"2020-05-07","v":-16.3},{"s":"OC","t":"2020-05-09","v":-14.4},{"s":"OC","t":"2020-05-12","v":-17.7},{"s":"OC","t":"2020-05-15","v":-18.2},{"s":"OC","t":"2020-05-16","v":-14.4},{"s":"OC","t":"2020-05-18","v":-19.1},{"s":"OC","t":"2020-05-20","v":-17.2},{"s":"OC","t":"2020-05-23","v":-13},{"s":"OC","t":"2020-05-25","v":-21},{"s":"OC","t":"2020-05-27","v":-16.3},{"s":"OC","t":"2020-05-29","v":-10.2},{"s":"OC","t":"2020-06-01","v":-16.3},{"s":"OC","t":"2020-06-05","v":-16.3},{"s":"OC","t":"2020-06-06","v":-10.6},{"s":"OC","t":"2020-06-08","v":-16.3},{"s":"OC","t":"2020-06-10","v":-16.3},{"s":"OC","t":"2020-06-13","v":-9.2},{"s":"OC","t":"2020-06-15","v":-16.3},{"s":"OC","t":"2020-06-18","v":-15.8},{"s":"OC","t":"2020-06-20","v":-9.2},{"s":"OC","t":"2020-06-22","v":-15.8},{"s":"OC","t":"2020-06-25","v":-14.9},{"s":"OC","t":"2020-06-27","v":-8.7},{"s":"OC","t":"2020-06-30","v":-16.3},
      {"s":"SO2","t":"2020-01-01","v":0},{"s":"SO2","t":"2020-02-13","v":0},{"s":"SO2","t":"2020-02-14","v":0.7},{"s":"SO2","t":"2020-02-22","v":0.8},{"s":"SO2","t":"2020-02-28","v":1.1},{"s":"SO2","t":"2020-03-07","v":1.6},{"s":"SO2","t":"2020-03-09","v":-0.3},{"s":"SO2","t":"2020-03-12","v":-4},{"s":"SO2","t":"2020-03-13","v":-6.9},{"s":"SO2","t":"2020-03-15","v":-10.2},{"s":"SO2","t":"2020-03-17","v":-14.4},{"s":"SO2","t":"2020-03-19","v":-15.8},{"s":"SO2","t":"2020-03-21","v":-16.3},{"s":"SO2","t":"2020-03-23","v":-19.1},{"s":"SO2","t":"2020-03-26","v":-23.3},{"s":"SO2","t":"2020-03-28","v":-22.9},{"s":"SO2","t":"2020-03-29","v":-24.7},{"s":"SO2","t":"2020-04-01","v":-25.7},{"s":"SO2","t":"2020-04-04","v":-24.3},{"s":"SO2","t":"2020-04-06","v":-26.6},{"s":"SO2","t":"2020-04-10","v":-29.4},{"s":"SO2","t":"2020-04-11","v":-26.6},{"s":"SO2","t":"2020-04-14","v":-27.6},{"s":"SO2","t":"2020-04-16","v":-26.1},{"s":"SO2","t":"2020-04-18","v":-23.8},{"s":"SO2","t":"2020-04-20","v":-25.7},{"s":"SO2","t":"2020-04-23","v":-25.7},{"s":"SO2","t":"2020-04-25","v":-23.3},{"s":"SO2","t":"2020-04-27","v":-25.7},{"s":"SO2","t":"2020-04-30","v":-25.7},{"s":"SO2","t":"2020-05-02","v":-21.9},{"s":"SO2","t":"2020-05-04","v":-24.3},{"s":"SO2","t":"2020-05-07","v":-24.3},{"s":"SO2","t":"2020-05-10","v":-20.5},{"s":"SO2","t":"2020-05-12","v":-23.3},{"s":"SO2","t":"2020-05-15","v":-23.3},{"s":"SO2","t":"2020-05-17","v":-20},{"s":"SO2","t":"2020-05-19","v":-22.9},{"s":"SO2","t":"2020-05-21","v":-22.4},{"s":"SO2","t":"2020-05-23","v":-21},{"s":"SO2","t":"2020-05-25","v":-22.9},{"s":"SO2","t":"2020-05-28","v":-19.6},{"s":"SO2","t":"2020-05-30","v":-15.8},{"s":"SO2","t":"2020-06-01","v":-19.1},{"s":"SO2","t":"2020-06-04","v":-19.1},{"s":"SO2","t":"2020-06-06","v":-15.8},{"s":"SO2","t":"2020-06-08","v":-19.6},{"s":"SO2","t":"2020-06-10","v":-19.1},{"s":"SO2","t":"2020-06-13","v":-13.5},{"s":"SO2","t":"2020-06-15","v":-19.1},{"s":"SO2","t":"2020-06-18","v":-19.1},{"s":"SO2","t":"2020-06-20","v":-13.5},{"s":"SO2","t":"2020-06-22","v":-19.1},{"s":"SO2","t":"2020-06-25","v":-19.1},{"s":"SO2","t":"2020-06-27","v":-15.3},{"s":"SO2","t":"2020-06-29","v":-19.1},{"s":"SO2","t":"2020-06-30","v":-19.1},
      {"s":"CO","t":"2020-01-01","v":0},{"s":"CO","t":"2020-02-13","v":0},{"s":"CO","t":"2020-02-14","v":1.6},{"s":"CO","t":"2020-02-16","v":1.2},{"s":"CO","t":"2020-02-17","v":-0.3},{"s":"CO","t":"2020-02-18","v":1.6},{"s":"CO","t":"2020-02-20","v":2},{"s":"CO","t":"2020-02-22","v":2.5},{"s":"CO","t":"2020-02-24","v":3.9},{"s":"CO","t":"2020-02-26","v":3.5},{"s":"CO","t":"2020-02-29","v":5.8},{"s":"CO","t":"2020-03-02","v":2.1},{"s":"CO","t":"2020-03-05","v":3.5},{"s":"CO","t":"2020-03-07","v":5.4},{"s":"CO","t":"2020-03-09","v":-0.8},{"s":"CO","t":"2020-03-11","v":1.1},{"s":"CO","t":"2020-03-12","v":-3.1},{"s":"CO","t":"2020-03-14","v":-5},{"s":"CO","t":"2020-03-16","v":-15.3},{"s":"CO","t":"2020-03-18","v":-20},{"s":"CO","t":"2020-03-20","v":-24.7},{"s":"CO","t":"2020-03-22","v":-31.3},{"s":"CO","t":"2020-03-25","v":-34.1},{"s":"CO","t":"2020-03-28","v":-32.7},{"s":"CO","t":"2020-03-29","v":-37},{"s":"CO","t":"2020-04-01","v":-37.9},{"s":"CO","t":"2020-04-04","v":-35.6},{"s":"CO","t":"2020-04-06","v":-38.9},{"s":"CO","t":"2020-04-09","v":-38.9},{"s":"CO","t":"2020-04-11","v":-36},{"s":"CO","t":"2020-04-12","v":-45.4},{"s":"CO","t":"2020-04-14","v":-40.3},{"s":"CO","t":"2020-04-16","v":-39.8},{"s":"CO","t":"2020-04-18","v":-35.1},{"s":"CO","t":"2020-04-20","v":-38.4},{"s":"CO","t":"2020-04-23","v":-38.4},{"s":"CO","t":"2020-04-25","v":-32.3},{"s":"CO","t":"2020-04-27","v":-37},{"s":"CO","t":"2020-04-30","v":-37},{"s":"CO","t":"2020-05-02","v":-30.4},{"s":"CO","t":"2020-05-04","v":-35.1},{"s":"CO","t":"2020-05-07","v":-34.6},{"s":"CO","t":"2020-05-10","v":-29.4},{"s":"CO","t":"2020-05-12","v":-34.1},{"s":"CO","t":"2020-05-15","v":-33.7},{"s":"CO","t":"2020-05-17","v":-28.5},{"s":"CO","t":"2020-05-19","v":-33.7},{"s":"CO","t":"2020-05-21","v":-31.3},{"s":"CO","t":"2020-05-23","v":-21.9},{"s":"CO","t":"2020-05-25","v":-30.4},{"s":"CO","t":"2020-05-28","v":-25.7},{"s":"CO","t":"2020-05-30","v":-18.2},{"s":"CO","t":"2020-06-01","v":-25.7},{"s":"CO","t":"2020-06-05","v":-25.7},{"s":"CO","t":"2020-06-06","v":-16.3},{"s":"CO","t":"2020-06-08","v":-26.2},{"s":"CO","t":"2020-06-10","v":-25.7},{"s":"CO","t":"2020-06-13","v":-14.4},{"s":"CO","t":"2020-06-15","v":-23.8},{"s":"CO","t":"2020-06-18","v":-24.3},{"s":"CO","t":"2020-06-20","v":-11.6},{"s":"CO","t":"2020-06-22","v":-23.8},{"s":"CO","t":"2020-06-25","v":-22.9},{"s":"CO","t":"2020-06-27","v":-11.1},{"s":"CO","t":"2020-06-29","v":-21.9},{"s":"CO","t":"2020-06-30","v":-21.9},
      {"s":"NOx","t":"2020-01-01","v":0},{"s":"NOx","t":"2020-02-13","v":0},{"s":"NOx","t":"2020-02-14","v":1.1},{"s":"NOx","t":"2020-02-17","v":-5.5},{"s":"NOx","t":"2020-02-18","v":1.1},{"s":"NOx","t":"2020-02-22","v":1.6},{"s":"NOx","t":"2020-02-24","v":3},{"s":"NOx","t":"2020-02-29","v":4},{"s":"NOx","t":"2020-03-02","v":1.8},{"s":"NOx","t":"2020-03-07","v":3.5},{"s":"NOx","t":"2020-03-09","v":-0.3},{"s":"NOx","t":"2020-03-11","v":0.8},{"s":"NOx","t":"2020-03-12","v":-4},{"s":"NOx","t":"2020-03-14","v":-6.4},{"s":"NOx","t":"2020-03-16","v":-14.4},{"s":"NOx","t":"2020-03-18","v":-18.2},{"s":"NOx","t":"2020-03-20","v":-21.9},{"s":"NOx","t":"2020-03-22","v":-26.6},{"s":"NOx","t":"2020-03-25","v":-30.4},{"s":"NOx","t":"2020-03-28","v":-29},{"s":"NOx","t":"2020-03-29","v":-32.3},{"s":"NOx","t":"2020-04-01","v":-32.7},{"s":"NOx","t":"2020-04-04","v":-30.8},{"s":"NOx","t":"2020-04-07","v":-34.1},{"s":"NOx","t":"2020-04-09","v":-34.1},{"s":"NOx","t":"2020-04-11","v":-37.9},{"s":"NOx","t":"2020-04-13","v":-34.1},{"s":"NOx","t":"2020-04-16","v":-34.1},{"s":"NOx","t":"2020-04-18","v":-30.4},{"s":"NOx","t":"2020-04-20","v":-33.2},{"s":"NOx","t":"2020-04-23","v":-33.2},{"s":"NOx","t":"2020-04-25","v":-29.4},{"s":"NOx","t":"2020-04-27","v":-32.3},{"s":"NOx","t":"2020-04-30","v":-32.3},{"s":"NOx","t":"2020-05-02","v":-27.6},{"s":"NOx","t":"2020-05-04","v":-30.4},{"s":"NOx","t":"2020-05-07","v":-30.4},{"s":"NOx","t":"2020-05-10","v":-27.1},{"s":"NOx","t":"2020-05-12","v":-29.4},{"s":"NOx","t":"2020-05-15","v":-29.4},{"s":"NOx","t":"2020-05-17","v":-24.7},{"s":"NOx","t":"2020-05-19","v":-28.5},{"s":"NOx","t":"2020-05-21","v":-24.7},{"s":"NOx","t":"2020-05-23","v":-21},{"s":"NOx","t":"2020-05-25","v":-28.5},{"s":"NOx","t":"2020-05-28","v":-24.3},{"s":"NOx","t":"2020-05-30","v":-18.2},{"s":"NOx","t":"2020-06-01","v":-24.3},{"s":"NOx","t":"2020-06-05","v":-23.8},{"s":"NOx","t":"2020-06-06","v":-15.8},{"s":"NOx","t":"2020-06-08","v":-24.3},{"s":"NOx","t":"2020-06-10","v":-23.8},{"s":"NOx","t":"2020-06-13","v":-14.9},{"s":"NOx","t":"2020-06-15","v":-22.9},{"s":"NOx","t":"2020-06-18","v":-23.3},{"s":"NOx","t":"2020-06-20","v":-13.5},{"s":"NOx","t":"2020-06-22","v":-22.9},{"s":"NOx","t":"2020-06-25","v":-21.9},{"s":"NOx","t":"2020-06-27","v":-13.5},{"s":"NOx","t":"2020-06-29","v":-21.5},{"s":"NOx","t":"2020-06-30","v":-21.5}
    ],
    "sam": [
      {"s":"NMVOC","t":"2020-01-01","v":0},{"s":"NMVOC","t":"2020-02-14","v":0},{"s":"NMVOC","t":"2020-02-15","v":3.3},{"s":"NMVOC","t":"2020-02-16","v":1},{"s":"NMVOC","t":"2020-02-17","v":8.1},{"s":"NMVOC","t":"2020-02-19","v":8.1},{"s":"NMVOC","t":"2020-02-22","v":7.6},{"s":"NMVOC","t":"2020-02-23","v":0},{"s":"NMVOC","t":"2020-02-24","v":-26.7},{"s":"NMVOC","t":"2020-02-25","v":-32.5},{"s":"NMVOC","t":"2020-02-26","v":2.9},{"s":"NMVOC","t":"2020-02-28","v":6.7},{"s":"NMVOC","t":"2020-02-29","v":7.6},{"s":"NMVOC","t":"2020-03-01","v":3.8},{"s":"NMVOC","t":"2020-03-02","v":10.5},{"s":"NMVOC","t":"2020-03-04","v":10.5},{"s":"NMVOC","t":"2020-03-06","v":11.9},{"s":"NMVOC","t":"2020-03-08","v":4.8},{"s":"NMVOC","t":"2020-03-09","v":11.9},{"s":"NMVOC","t":"2020-03-11","v":10},{"s":"NMVOC","t":"2020-03-13","v":9.6},{"s":"NMVOC","t":"2020-03-14","v":5.7},{"s":"NMVOC","t":"2020-03-16","v":-4.8},{"s":"NMVOC","t":"2020-03-17","v":-11.5},{"s":"NMVOC","t":"2020-03-19","v":-21.9},{"s":"NMVOC","t":"2020-03-21","v":-39.2},{"s":"NMVOC","t":"2020-03-23","v":-52.5},{"s":"NMVOC","t":"2020-03-25","v":-54.9},{"s":"NMVOC","t":"2020-03-27","v":-52.2},{"s":"NMVOC","t":"2020-03-29","v":-46.3},{"s":"NMVOC","t":"2020-03-31","v":-52.5},{"s":"NMVOC","t":"2020-04-02","v":-50.1},{"s":"NMVOC","t":"2020-04-05","v":-44.4},{"s":"NMVOC","t":"2020-04-07","v":-48.7},{"s":"NMVOC","t":"2020-04-09","v":-47.3},{"s":"NMVOC","t":"2020-04-10","v":-65.4},{"s":"NMVOC","t":"2020-04-12","v":-44.4},{"s":"NMVOC","t":"2020-04-14","v":-43.5},{"s":"NMVOC","t":"2020-04-17","v":-42},{"s":"NMVOC","t":"2020-04-19","v":-45.4},{"s":"NMVOC","t":"2020-04-21","v":-54.9},{"s":"NMVOC","t":"2020-04-23","v":-41},{"s":"NMVOC","t":"2020-04-25","v":-39.6},{"s":"NMVOC","t":"2020-04-28","v":-42},{"s":"NMVOC","t":"2020-04-30","v":-40.1},{"s":"NMVOC","t":"2020-05-01","v":-60.2},{"s":"NMVOC","t":"2020-05-03","v":-38.7},{"s":"NMVOC","t":"2020-05-05","v":-39.2},{"s":"NMVOC","t":"2020-05-07","v":-38.7},{"s":"NMVOC","t":"2020-05-10","v":-31},{"s":"NMVOC","t":"2020-05-12","v":-37.7},{"s":"NMVOC","t":"2020-05-14","v":-38.2},{"s":"NMVOC","t":"2020-05-16","v":-33.4},{"s":"NMVOC","t":"2020-05-18","v":-34.9},{"s":"NMVOC","t":"2020-05-21","v":-36.3},{"s":"NMVOC","t":"2020-05-23","v":-32},{"s":"NMVOC","t":"2020-05-25","v":-42.5},{"s":"NMVOC","t":"2020-05-26","v":-34.9},{"s":"NMVOC","t":"2020-05-28","v":-34.4},{"s":"NMVOC","t":"2020-05-30","v":-28.2},{"s":"NMVOC","t":"2020-06-02","v":-31.5},{"s":"NMVOC","t":"2020-06-05","v":-30.6},{"s":"NMVOC","t":"2020-06-07","v":-26.7},{"s":"NMVOC","t":"2020-06-09","v":-29.1},{"s":"NMVOC","t":"2020-06-10","v":-29.6},{"s":"NMVOC","t":"2020-06-11","v":-39.2},{"s":"NMVOC","t":"2020-06-13","v":-23.9},{"s":"NMVOC","t":"2020-06-15","v":-30.6},{"s":"NMVOC","t":"2020-06-18","v":-28.2},{"s":"NMVOC","t":"2020-06-21","v":-21.5},{"s":"NMVOC","t":"2020-06-23","v":-30.6},{"s":"NMVOC","t":"2020-06-25","v":-29.6},{"s":"NMVOC","t":"2020-06-27","v":-24.4},{"s":"NMVOC","t":"2020-06-29","v":-30.6},{"s":"NMVOC","t":"2020-06-30","v":-29.6},
      {"s":"BC","t":"2020-01-01","v":0},{"s":"BC","t":"2020-02-14","v":0},{"s":"BC","t":"2020-02-15","v":2.4},{"s":"BC","t":"2020-02-17","v":6.2},{"s":"BC","t":"2020-02-22","v":6.2},{"s":"BC","t":"2020-02-23","v":0},{"s":"BC","t":"2020-02-24","v":-14.3},{"s":"BC","t":"2020-02-25","v":-17.2},{"s":"BC","t":"2020-02-26","v":2.9},{"s":"BC","t":"2020-02-28","v":4.8},{"s":"BC","t":"2020-03-02","v":-1.4},{"s":"BC","t":"2020-03-03","v":6.7},{"s":"BC","t":"2020-03-06","v":8.6},{"s":"BC","t":"2020-03-08","v":2.4},{"s":"BC","t":"2020-03-09","v":8.6},{"s":"BC","t":"2020-03-13","v":6.7},{"s":"BC","t":"2020-03-15","v":1},{"s":"BC","t":"2020-03-17","v":-8.6},{"s":"BC","t":"2020-03-19","v":-18.1},{"s":"BC","t":"2020-03-22","v":-33.4},{"s":"BC","t":"2020-03-24","v":-40.1},{"s":"BC","t":"2020-03-26","v":-38.2},{"s":"BC","t":"2020-03-29","v":-34.4},{"s":"BC","t":"2020-03-31","v":-38.2},{"s":"BC","t":"2020-04-02","v":-37.2},{"s":"BC","t":"2020-04-05","v":-33.4},{"s":"BC","t":"2020-04-07","v":-35.3},{"s":"BC","t":"2020-04-09","v":-36.3},{"s":"BC","t":"2020-04-10","v":-46.8},{"s":"BC","t":"2020-04-12","v":-32.5},{"s":"BC","t":"2020-04-14","v":-33},{"s":"BC","t":"2020-04-17","v":-30.1},{"s":"BC","t":"2020-04-19","v":-31.5},{"s":"BC","t":"2020-04-21","v":-40.1},{"s":"BC","t":"2020-04-23","v":-29.6},{"s":"BC","t":"2020-04-26","v":-30.6},{"s":"BC","t":"2020-04-28","v":-29.6},{"s":"BC","t":"2020-04-30","v":-31.5},{"s":"BC","t":"2020-05-01","v":-39.2},{"s":"BC","t":"2020-05-02","v":-29.1},{"s":"BC","t":"2020-05-05","v":-29.1},{"s":"BC","t":"2020-05-07","v":-28.2},{"s":"BC","t":"2020-05-10","v":-22.9},{"s":"BC","t":"2020-05-12","v":-26.7},{"s":"BC","t":"2020-05-14","v":-27.7},{"s":"BC","t":"2020-05-16","v":-24.4},{"s":"BC","t":"2020-05-19","v":-25.8},{"s":"BC","t":"2020-05-22","v":-26.7},{"s":"BC","t":"2020-05-23","v":-23.4},{"s":"BC","t":"2020-05-25","v":-30.6},{"s":"BC","t":"2020-05-26","v":-23.9},{"s":"BC","t":"2020-05-29","v":-22},{"s":"BC","t":"2020-05-30","v":-19.6},{"s":"BC","t":"2020-06-02","v":-22},{"s":"BC","t":"2020-06-05","v":-20.5},{"s":"BC","t":"2020-06-07","v":-18.1},{"s":"BC","t":"2020-06-10","v":-21},{"s":"BC","t":"2020-06-11","v":-22},{"s":"BC","t":"2020-06-13","v":-16.7},{"s":"BC","t":"2020-06-15","v":-22.4},{"s":"BC","t":"2020-06-18","v":-21},{"s":"BC","t":"2020-06-21","v":-15.8},{"s":"BC","t":"2020-06-23","v":-22},{"s":"BC","t":"2020-06-26","v":-20.5},{"s":"BC","t":"2020-06-27","v":-17.2},{"s":"BC","t":"2020-06-29","v":-22},{"s":"BC","t":"2020-06-30","v":-21},
      {"s":"OC","t":"2020-01-01","v":0},{"s":"OC","t":"2020-02-14","v":0},{"s":"OC","t":"2020-02-15","v":2.4},{"s":"OC","t":"2020-02-17","v":3.3},{"s":"OC","t":"2020-02-21","v":2.9},{"s":"OC","t":"2020-02-23","v":-2.9},{"s":"OC","t":"2020-02-25","v":-8.6},{"s":"OC","t":"2020-02-26","v":1},{"s":"OC","t":"2020-02-28","v":4.8},{"s":"OC","t":"2020-03-02","v":1.9},{"s":"OC","t":"2020-03-03","v":3.8},{"s":"OC","t":"2020-03-07","v":4.3},{"s":"OC","t":"2020-03-09","v":3.8},{"s":"OC","t":"2020-03-12","v":3.8},{"s":"OC","t":"2020-03-16","v":0.5},{"s":"OC","t":"2020-03-18","v":-3.3},{"s":"OC","t":"2020-03-20","v":-6.2},{"s":"OC","t":"2020-03-22","v":-9.1},{"s":"OC","t":"2020-03-25","v":-11},{"s":"OC","t":"2020-03-27","v":-9.1},{"s":"OC","t":"2020-03-31","v":-10.3},{"s":"OC","t":"2020-04-03","v":-8.1},{"s":"OC","t":"2020-04-06","v":-9.1},{"s":"OC","t":"2020-04-09","v":-8.6},{"s":"OC","t":"2020-04-10","v":-10.3},{"s":"OC","t":"2020-04-12","v":-8.1},{"s":"OC","t":"2020-04-15","v":-7.6},{"s":"OC","t":"2020-04-17","v":-5.7},{"s":"OC","t":"2020-04-19","v":-7.2},{"s":"OC","t":"2020-04-21","v":-10},{"s":"OC","t":"2020-04-23","v":-6.7},{"s":"OC","t":"2020-04-25","v":-5.7},{"s":"OC","t":"2020-04-27","v":-7.6},{"s":"OC","t":"2020-04-28","v":-8.6},{"s":"OC","t":"2020-04-30","v":-6.2},{"s":"OC","t":"2020-05-01","v":-9.6},{"s":"OC","t":"2020-05-03","v":-6.2},{"s":"OC","t":"2020-05-05","v":-6.2},{"s":"OC","t":"2020-05-08","v":-4.3},{"s":"OC","t":"2020-05-11","v":-5.3},{"s":"OC","t":"2020-05-14","v":-5.7},{"s":"OC","t":"2020-05-16","v":-3.8},{"s":"OC","t":"2020-05-19","v":-4.3},{"s":"OC","t":"2020-05-22","v":-3.3},{"s":"OC","t":"2020-05-25","v":-5.7},{"s":"OC","t":"2020-05-27","v":-3.3},{"s":"OC","t":"2020-05-29","v":-1.9},{"s":"OC","t":"2020-06-01","v":-3.3},{"s":"OC","t":"2020-06-05","v":-1.4},{"s":"OC","t":"2020-06-07","v":-1},{"s":"OC","t":"2020-06-10","v":-2.4},{"s":"OC","t":"2020-06-11","v":-3.6},{"s":"OC","t":"2020-06-13","v":-0.5},{"s":"OC","t":"2020-06-15","v":-2.4},{"s":"OC","t":"2020-06-20","v":-0.5},{"s":"OC","t":"2020-06-22","v":-1.9},{"s":"OC","t":"2020-06-25","v":-1.4},{"s":"OC","t":"2020-06-27","v":0},{"s":"OC","t":"2020-06-30","v":-2.1},
      {"s":"SO2","t":"2020-01-01","v":0},{"s":"SO2","t":"2020-02-14","v":0},{"s":"SO2","t":"2020-02-15","v":2.4},{"s":"SO2","t":"2020-02-17","v":6.7},{"s":"SO2","t":"2020-02-22","v":6.7},{"s":"SO2","t":"2020-02-23","v":-1},{"s":"SO2","t":"2020-02-24","v":-10.5},{"s":"SO2","t":"2020-02-25","v":-8.6},{"s":"SO2","t":"2020-02-26","v":3.8},{"s":"SO2","t":"2020-02-28","v":6.2},{"s":"SO2","t":"2020-03-02","v":0},{"s":"SO2","t":"2020-03-03","v":7.2},{"s":"SO2","t":"2020-03-06","v":8.1},{"s":"SO2","t":"2020-03-08","v":2.9},{"s":"SO2","t":"2020-03-09","v":8.6},{"s":"SO2","t":"2020-03-13","v":7.2},{"s":"SO2","t":"2020-03-15","v":0},{"s":"SO2","t":"2020-03-17","v":-4.8},{"s":"SO2","t":"2020-03-19","v":-11.5},{"s":"SO2","t":"2020-03-22","v":-23.9},{"s":"SO2","t":"2020-03-24","v":-33.9},{"s":"SO2","t":"2020-03-26","v":-34.4},{"s":"SO2","t":"2020-03-29","v":-29.6},{"s":"SO2","t":"2020-03-31","v":-32.9},{"s":"SO2","t":"2020-04-02","v":-32.5},{"s":"SO2","t":"2020-04-05","v":-28.2},{"s":"SO2","t":"2020-04-07","v":-32.5},{"s":"SO2","t":"2020-04-09","v":-33.4},{"s":"SO2","t":"2020-04-10","v":-40.1},{"s":"SO2","t":"2020-04-12","v":-27.7},{"s":"SO2","t":"2020-04-14","v":-30.1},{"s":"SO2","t":"2020-04-17","v":-28.7},{"s":"SO2","t":"2020-04-19","v":-26.3},{"s":"SO2","t":"2020-04-20","v":-27.7},{"s":"SO2","t":"2020-04-21","v":-33.9},{"s":"SO2","t":"2020-04-23","v":-27.7},{"s":"SO2","t":"2020-04-26","v":-24.8},{"s":"SO2","t":"2020-04-29","v":-26.7},{"s":"SO2","t":"2020-04-30","v":-26.7},{"s":"SO2","t":"2020-05-01","v":-37.2},{"s":"SO2","t":"2020-05-03","v":-23.9},{"s":"SO2","t":"2020-05-05","v":-24.8},{"s":"SO2","t":"2020-05-07","v":-23.4},{"s":"SO2","t":"2020-05-10","v":-18.1},{"s":"SO2","t":"2020-05-12","v":-23.4},{"s":"SO2","t":"2020-05-14","v":-23.4},{"s":"SO2","t":"2020-05-17","v":-20.1},{"s":"SO2","t":"2020-05-19","v":-22.4},{"s":"SO2","t":"2020-05-22","v":-22.4},{"s":"SO2","t":"2020-05-23","v":-20.1},{"s":"SO2","t":"2020-05-25","v":-27.7},{"s":"SO2","t":"2020-05-26","v":-21.5},{"s":"SO2","t":"2020-05-28","v":-21},{"s":"SO2","t":"2020-05-30","v":-16.7},{"s":"SO2","t":"2020-06-02","v":-19.1},{"s":"SO2","t":"2020-06-05","v":-18.1},{"s":"SO2","t":"2020-06-07","v":-14.3},{"s":"SO2","t":"2020-06-10","v":-18.1},{"s":"SO2","t":"2020-06-11","v":-23.9},{"s":"SO2","t":"2020-06-13","v":-14.3},{"s":"SO2","t":"2020-06-15","v":-18.1},{"s":"SO2","t":"2020-06-18","v":-17.7},{"s":"SO2","t":"2020-06-21","v":-11},{"s":"SO2","t":"2020-06-23","v":-18.6},{"s":"SO2","t":"2020-06-25","v":-18.1},{"s":"SO2","t":"2020-06-28","v":-13.9},{"s":"SO2","t":"2020-06-29","v":-18.6},{"s":"SO2","t":"2020-06-30","v":-18.1},
      {"s":"CO","t":"2020-01-01","v":0},{"s":"CO","t":"2020-02-14","v":0},{"s":"CO","t":"2020-02-15","v":2.9},{"s":"CO","t":"2020-02-16","v":0.5},{"s":"CO","t":"2020-02-17","v":6.7},{"s":"CO","t":"2020-02-22","v":6.9},{"s":"CO","t":"2020-02-23","v":-1},{"s":"CO","t":"2020-02-24","v":-17.2},{"s":"CO","t":"2020-02-25","v":-23.4},{"s":"CO","t":"2020-02-26","v":1},{"s":"CO","t":"2020-02-28","v":5.3},{"s":"CO","t":"2020-02-29","v":5.7},{"s":"CO","t":"2020-03-01","v":-2.4},{"s":"CO","t":"2020-03-02","v":7.6},{"s":"CO","t":"2020-03-05","v":9.1},{"s":"CO","t":"2020-03-07","v":3.8},{"s":"CO","t":"2020-03-08","v":1.4},{"s":"CO","t":"2020-03-09","v":9.1},{"s":"CO","t":"2020-03-12","v":7.6},{"s":"CO","t":"2020-03-14","v":4.8},{"s":"CO","t":"2020-03-16","v":-7.6},{"s":"CO","t":"2020-03-17","v":-13.4},{"s":"CO","t":"2020-03-19","v":-25.8},{"s":"CO","t":"2020-03-21","v":-43.9},{"s":"CO","t":"2020-03-23","v":-51.6},{"s":"CO","t":"2020-03-25","v":-54},{"s":"CO","t":"2020-03-27","v":-51.6},{"s":"CO","t":"2020-03-30","v":-51.6},{"s":"CO","t":"2020-04-02","v":-49.7},{"s":"CO","t":"2020-04-05","v":-47.8},{"s":"CO","t":"2020-04-08","v":-47.3},{"s":"CO","t":"2020-04-10","v":-59.2},{"s":"CO","t":"2020-04-12","v":-48.7},{"s":"CO","t":"2020-04-14","v":-47.8},{"s":"CO","t":"2020-04-17","v":-45.8},{"s":"CO","t":"2020-04-19","v":-44.4},{"s":"CO","t":"2020-04-21","v":-51.6},{"s":"CO","t":"2020-04-23","v":-44.9},{"s":"CO","t":"2020-04-26","v":-46.3},{"s":"CO","t":"2020-04-28","v":-43},{"s":"CO","t":"2020-05-01","v":-53.5},{"s":"CO","t":"2020-05-02","v":-43.9},{"s":"CO","t":"2020-05-05","v":-42},{"s":"CO","t":"2020-05-08","v":-40.1},{"s":"CO","t":"2020-05-10","v":-37.2},{"s":"CO","t":"2020-05-12","v":-40.1},{"s":"CO","t":"2020-05-14","v":-40.6},{"s":"CO","t":"2020-05-17","v":-42.5},{"s":"CO","t":"2020-05-19","v":-39.2},{"s":"CO","t":"2020-05-22","v":-40.1},{"s":"CO","t":"2020-05-25","v":-43.5},{"s":"CO","t":"2020-05-26","v":-39.2},{"s":"CO","t":"2020-05-29","v":-37.7},{"s":"CO","t":"2020-05-31","v":-35.3},{"s":"CO","t":"2020-06-02","v":-39.2},{"s":"CO","t":"2020-06-05","v":-37.7},{"s":"CO","t":"2020-06-07","v":-35.3},{"s":"CO","t":"2020-06-09","v":-37.7},{"s":"CO","t":"2020-06-11","v":-37.2},{"s":"CO","t":"2020-06-13","v":-31.5},{"s":"CO","t":"2020-06-15","v":-35.3},{"s":"CO","t":"2020-06-18","v":-33.4},{"s":"CO","t":"2020-06-21","v":-29.6},{"s":"CO","t":"2020-06-23","v":-36.3},{"s":"CO","t":"2020-06-26","v":-33.9},{"s":"CO","t":"2020-06-28","v":-30.6},{"s":"CO","t":"2020-06-29","v":-36.8},{"s":"CO","t":"2020-06-30","v":-33.4},
      {"s":"NOx","t":"2020-01-01","v":0},{"s":"NOx","t":"2020-02-14","v":0},{"s":"NOx","t":"2020-02-15","v":2.4},{"s":"NOx","t":"2020-02-17","v":4.8},{"s":"NOx","t":"2020-02-22","v":5.7},{"s":"NOx","t":"2020-02-23","v":-0.5},{"s":"NOx","t":"2020-02-24","v":-14.3},{"s":"NOx","t":"2020-02-25","v":-18.1},{"s":"NOx","t":"2020-02-26","v":1.4},{"s":"NOx","t":"2020-02-28","v":4.8},{"s":"NOx","t":"2020-03-02","v":-1},{"s":"NOx","t":"2020-03-03","v":6.2},{"s":"NOx","t":"2020-03-06","v":6.7},{"s":"NOx","t":"2020-03-08","v":1.9},{"s":"NOx","t":"2020-03-09","v":7.6},{"s":"NOx","t":"2020-03-13","v":5.7},{"s":"NOx","t":"2020-03-16","v":-9.6},{"s":"NOx","t":"2020-03-17","v":-16.2},{"s":"NOx","t":"2020-03-19","v":-30.6},{"s":"NOx","t":"2020-03-21","v":-42},{"s":"NOx","t":"2020-03-23","v":-49.2},{"s":"NOx","t":"2020-03-25","v":-48.7},{"s":"NOx","t":"2020-03-28","v":-48.2},{"s":"NOx","t":"2020-03-29","v":-46.8},{"s":"NOx","t":"2020-03-31","v":-47.8},{"s":"NOx","t":"2020-04-04","v":-45.8},{"s":"NOx","t":"2020-04-08","v":-45.4},{"s":"NOx","t":"2020-04-10","v":-46.8},{"s":"NOx","t":"2020-04-11","v":-45.4},{"s":"NOx","t":"2020-04-14","v":-44.9},{"s":"NOx","t":"2020-04-17","v":-43},{"s":"NOx","t":"2020-04-19","v":-44.4},{"s":"NOx","t":"2020-04-21","v":-44.9},{"s":"NOx","t":"2020-04-23","v":-43},{"s":"NOx","t":"2020-04-27","v":-42},{"s":"NOx","t":"2020-04-30","v":-40.6},{"s":"NOx","t":"2020-05-02","v":-39.2},{"s":"NOx","t":"2020-05-04","v":-39.6},{"s":"NOx","t":"2020-05-07","v":-38.2},{"s":"NOx","t":"2020-05-09","v":-36.3},{"s":"NOx","t":"2020-05-12","v":-38.2},{"s":"NOx","t":"2020-05-15","v":-38.7},{"s":"NOx","t":"2020-05-17","v":-37.2},{"s":"NOx","t":"2020-05-20","v":-38.2},{"s":"NOx","t":"2020-05-23","v":-37.2},{"s":"NOx","t":"2020-05-25","v":-42},{"s":"NOx","t":"2020-05-26","v":-37.7},{"s":"NOx","t":"2020-05-29","v":-35.3},{"s":"NOx","t":"2020-05-31","v":-33.4},{"s":"NOx","t":"2020-06-02","v":-35.3},{"s":"NOx","t":"2020-06-05","v":-34.4},{"s":"NOx","t":"2020-06-07","v":-32.5},{"s":"NOx","t":"2020-06-10","v":-34.4},{"s":"NOx","t":"2020-06-11","v":-33.4},{"s":"NOx","t":"2020-06-13","v":-30.6},{"s":"NOx","t":"2020-06-15","v":-33.4},{"s":"NOx","t":"2020-06-18","v":-31.5},{"s":"NOx","t":"2020-06-21","v":-28.7},{"s":"NOx","t":"2020-06-23","v":-34.4},{"s":"NOx","t":"2020-06-26","v":-32.5},{"s":"NOx","t":"2020-06-27","v":-29.6},{"s":"NOx","t":"2020-06-29","v":-33.4},{"s":"NOx","t":"2020-06-30","v":-31.5}
    ]
  },
  "vconcat": [
    {
      "hconcat": [
        {
          "title": {"text": "North China Plain"},
          "width": 628, "height": 348,
          "data": {"name": "ncp"},
          "layer": [
            {
              "mark": {"type": "line", "strokeWidth": 3},
              "encoding": {
                "x": {"field": "t", "type": "temporal",
                  "scale": {"type": "utc", "nice": false, "domain": [{"year": 2020, "month": 1, "date": 1, "utc": true}, {"year": 2020, "month": 6, "date": 30, "utc": true}]},
                  "axis": {"orient": "bottom", "title": null, "grid": true,
                    "values": [{"year":2020,"month":1,"date":1,"utc":true},{"year":2020,"month":1,"date":15,"utc":true},{"year":2020,"month":2,"date":1,"utc":true},{"year":2020,"month":2,"date":15,"utc":true},{"year":2020,"month":3,"date":1,"utc":true},{"year":2020,"month":3,"date":15,"utc":true},{"year":2020,"month":4,"date":1,"utc":true},{"year":2020,"month":4,"date":15,"utc":true},{"year":2020,"month":5,"date":1,"utc":true},{"year":2020,"month":5,"date":15,"utc":true},{"year":2020,"month":6,"date":1,"utc":true},{"year":2020,"month":6,"date":15,"utc":true},{"year":2020,"month":6,"date":30,"utc":true}],
                    "labelExpr": "utcdate(datum.value) === 1 || utcdate(datum.value) === 30 ? [utcFormat(datum.value, '%d/%m'), utcFormat(datum.value, '%Y')] : ''"}},
                "y": {"field": "v", "type": "quantitative",
                  "scale": {"domain": [-80, 20], "nice": false, "zero": false},
                  "axis": {"orient": "left", "title": "Change in COVID emissions (%)", "grid": true,
                    "values": [20,15,10,5,0,-5,-10,-15,-20,-25,-30,-35,-40,-45,-50,-55,-60,-65,-70,-75,-80],
                    "labelExpr": "datum.value % 20 === 0 ? '' + datum.value : ''",
                    "gridOpacity": {"condition": {"test": "datum.value % 20 !== 0", "value": 0}, "value": 1}}},
                "color": {"field": "s", "type": "nominal",
                  "scale": {"domain": ["NOx", "CO", "SO2", "OC", "BC", "NMVOC"], "range": ["#ffc0cb", "#ff8c00", "#006400", "#0000ff", "#ff0000", "#000000"]},
                  "legend": {"orient": "bottom-left", "offset": 2, "padding": 0, "title": null, "symbolType": "stroke", "symbolStrokeWidth": 3, "symbolSize": 340, "labelFontSize": 16.5, "labelFont": "Liberation Sans", "labelColor": "#000000", "labelOffset": 1, "rowPadding": 0, "clipHeight": 17.4}}
              }
            },
            {
              "transform": [{"filter": "datum.v > 1000"}],
              "mark": {"type": "point"},
              "encoding": {
                "x": {"field": "t", "type": "temporal",
                  "axis": {"orient": "top", "title": null, "labels": false,
                    "values": [{"year":2020,"month":1,"date":1,"utc":true},{"year":2020,"month":1,"date":15,"utc":true},{"year":2020,"month":2,"date":1,"utc":true},{"year":2020,"month":2,"date":15,"utc":true},{"year":2020,"month":3,"date":1,"utc":true},{"year":2020,"month":3,"date":15,"utc":true},{"year":2020,"month":4,"date":1,"utc":true},{"year":2020,"month":4,"date":15,"utc":true},{"year":2020,"month":5,"date":1,"utc":true},{"year":2020,"month":5,"date":15,"utc":true},{"year":2020,"month":6,"date":1,"utc":true},{"year":2020,"month":6,"date":15,"utc":true},{"year":2020,"month":6,"date":30,"utc":true}]}},
                "y": {"field": "v", "type": "quantitative",
                  "axis": {"orient": "right", "title": null, "labels": false,
                    "values": [20,15,10,5,0,-5,-10,-15,-20,-25,-30,-35,-40,-45,-50,-55,-60,-65,-70,-75,-80]}}
              }
            }
          ],
          "resolve": {"axis": {"x": "independent", "y": "independent"}}
        },
        {
          "title": {"text": "Europe"},
          "width": 629, "height": 347,
          "data": {"name": "eur"},
          "layer": [
            {
              "mark": {"type": "line", "strokeWidth": 3},
              "encoding": {
                "x": {"field": "t", "type": "temporal",
                  "scale": {"type": "utc", "nice": false, "domain": [{"year": 2020, "month": 1, "date": 1, "utc": true}, {"year": 2020, "month": 6, "date": 30, "utc": true}]},
                  "axis": {"orient": "bottom", "title": null, "grid": true,
                    "values": [{"year":2020,"month":1,"date":1,"utc":true},{"year":2020,"month":1,"date":15,"utc":true},{"year":2020,"month":2,"date":1,"utc":true},{"year":2020,"month":2,"date":15,"utc":true},{"year":2020,"month":3,"date":1,"utc":true},{"year":2020,"month":3,"date":15,"utc":true},{"year":2020,"month":4,"date":1,"utc":true},{"year":2020,"month":4,"date":15,"utc":true},{"year":2020,"month":5,"date":1,"utc":true},{"year":2020,"month":5,"date":15,"utc":true},{"year":2020,"month":6,"date":1,"utc":true},{"year":2020,"month":6,"date":15,"utc":true},{"year":2020,"month":6,"date":30,"utc":true}],
                    "labelExpr": "utcdate(datum.value) === 1 || utcdate(datum.value) === 30 ? [utcFormat(datum.value, '%d/%m'), utcFormat(datum.value, '%Y')] : ''"}},
                "y": {"field": "v", "type": "quantitative",
                  "scale": {"domain": [-80, 20], "nice": false, "zero": false},
                  "axis": {"orient": "left", "title": "Change in COVID emissions (%)", "grid": true,
                    "values": [20,15,10,5,0,-5,-10,-15,-20,-25,-30,-35,-40,-45,-50,-55,-60,-65,-70,-75,-80],
                    "labelExpr": "datum.value % 20 === 0 ? '' + datum.value : ''",
                    "gridOpacity": {"condition": {"test": "datum.value % 20 !== 0", "value": 0}, "value": 1}}},
                "color": {"field": "s", "type": "nominal",
                  "scale": {"domain": ["NOx", "CO", "SO2", "OC", "BC", "NMVOC"], "range": ["#ffc0cb", "#ff8c00", "#006400", "#0000ff", "#ff0000", "#000000"]},
                  "legend": null}
              }
            },
            {
              "transform": [{"filter": "datum.v > 1000"}],
              "mark": {"type": "point"},
              "encoding": {
                "x": {"field": "t", "type": "temporal",
                  "axis": {"orient": "top", "title": null, "labels": false,
                    "values": [{"year":2020,"month":1,"date":1,"utc":true},{"year":2020,"month":1,"date":15,"utc":true},{"year":2020,"month":2,"date":1,"utc":true},{"year":2020,"month":2,"date":15,"utc":true},{"year":2020,"month":3,"date":1,"utc":true},{"year":2020,"month":3,"date":15,"utc":true},{"year":2020,"month":4,"date":1,"utc":true},{"year":2020,"month":4,"date":15,"utc":true},{"year":2020,"month":5,"date":1,"utc":true},{"year":2020,"month":5,"date":15,"utc":true},{"year":2020,"month":6,"date":1,"utc":true},{"year":2020,"month":6,"date":15,"utc":true},{"year":2020,"month":6,"date":30,"utc":true}]}},
                "y": {"field": "v", "type": "quantitative",
                  "axis": {"orient": "right", "title": null, "labels": false,
                    "values": [20,15,10,5,0,-5,-10,-15,-20,-25,-30,-35,-40,-45,-50,-55,-60,-65,-70,-75,-80]}}
              }
            }
          ],
          "resolve": {"axis": {"x": "independent", "y": "independent"}}
        }
      ],
      "spacing": 10,
      "resolve": {"scale": {"color": "independent"}}
    },
    {
      "hconcat": [
        {
          "title": {"text": "North America"},
          "width": 640, "height": 353,
          "data": {"name": "nam"},
          "layer": [
            {
              "mark": {"type": "line", "strokeWidth": 3},
              "encoding": {
                "x": {"field": "t", "type": "temporal",
                  "scale": {"type": "utc", "nice": false, "domain": [{"year": 2020, "month": 1, "date": 1, "utc": true}, {"year": 2020, "month": 6, "date": 30, "utc": true}]},
                  "axis": {"orient": "bottom", "title": null, "grid": true,
                    "values": [{"year":2020,"month":1,"date":1,"utc":true},{"year":2020,"month":1,"date":15,"utc":true},{"year":2020,"month":2,"date":1,"utc":true},{"year":2020,"month":2,"date":15,"utc":true},{"year":2020,"month":3,"date":1,"utc":true},{"year":2020,"month":3,"date":15,"utc":true},{"year":2020,"month":4,"date":1,"utc":true},{"year":2020,"month":4,"date":15,"utc":true},{"year":2020,"month":5,"date":1,"utc":true},{"year":2020,"month":5,"date":15,"utc":true},{"year":2020,"month":6,"date":1,"utc":true},{"year":2020,"month":6,"date":15,"utc":true},{"year":2020,"month":6,"date":30,"utc":true}],
                    "labelExpr": "utcdate(datum.value) === 1 || utcdate(datum.value) === 30 ? [utcFormat(datum.value, '%d/%m'), utcFormat(datum.value, '%Y')] : ''"}},
                "y": {"field": "v", "type": "quantitative",
                  "scale": {"domain": [-80, 20], "nice": false, "zero": false},
                  "axis": {"orient": "left", "title": "Change in COVID emissions (%)", "grid": true,
                    "values": [20,15,10,5,0,-5,-10,-15,-20,-25,-30,-35,-40,-45,-50,-55,-60,-65,-70,-75,-80],
                    "labelExpr": "datum.value % 20 === 0 ? '' + datum.value : ''",
                    "gridOpacity": {"condition": {"test": "datum.value % 20 !== 0", "value": 0}, "value": 1}}},
                "color": {"field": "s", "type": "nominal",
                  "scale": {"domain": ["NOx", "CO", "SO2", "OC", "BC", "NMVOC"], "range": ["#ffc0cb", "#ff8c00", "#006400", "#0000ff", "#ff0000", "#000000"]},
                  "legend": null}
              }
            },
            {
              "transform": [{"filter": "datum.v > 1000"}],
              "mark": {"type": "point"},
              "encoding": {
                "x": {"field": "t", "type": "temporal",
                  "axis": {"orient": "top", "title": null, "labels": false,
                    "values": [{"year":2020,"month":1,"date":1,"utc":true},{"year":2020,"month":1,"date":15,"utc":true},{"year":2020,"month":2,"date":1,"utc":true},{"year":2020,"month":2,"date":15,"utc":true},{"year":2020,"month":3,"date":1,"utc":true},{"year":2020,"month":3,"date":15,"utc":true},{"year":2020,"month":4,"date":1,"utc":true},{"year":2020,"month":4,"date":15,"utc":true},{"year":2020,"month":5,"date":1,"utc":true},{"year":2020,"month":5,"date":15,"utc":true},{"year":2020,"month":6,"date":1,"utc":true},{"year":2020,"month":6,"date":15,"utc":true},{"year":2020,"month":6,"date":30,"utc":true}]}},
                "y": {"field": "v", "type": "quantitative",
                  "axis": {"orient": "right", "title": null, "labels": false,
                    "values": [20,15,10,5,0,-5,-10,-15,-20,-25,-30,-35,-40,-45,-50,-55,-60,-65,-70,-75,-80]}}
              }
            }
          ],
          "resolve": {"axis": {"x": "independent", "y": "independent"}}
        },
        {
          "title": {"text": "South America", "offset": -5},
          "width": 631, "height": 357,
          "data": {"name": "sam"},
          "layer": [
            {
              "mark": {"type": "line", "strokeWidth": 3},
              "encoding": {
                "x": {"field": "t", "type": "temporal",
                  "scale": {"type": "utc", "nice": false, "domain": [{"year": 2020, "month": 1, "date": 1, "utc": true}, {"year": 2020, "month": 6, "date": 30, "utc": true}]},
                  "axis": {"orient": "bottom", "title": null, "grid": true,
                    "values": [{"year":2020,"month":1,"date":1,"utc":true},{"year":2020,"month":1,"date":15,"utc":true},{"year":2020,"month":2,"date":1,"utc":true},{"year":2020,"month":2,"date":15,"utc":true},{"year":2020,"month":3,"date":1,"utc":true},{"year":2020,"month":3,"date":15,"utc":true},{"year":2020,"month":4,"date":1,"utc":true},{"year":2020,"month":4,"date":15,"utc":true},{"year":2020,"month":5,"date":1,"utc":true},{"year":2020,"month":5,"date":15,"utc":true},{"year":2020,"month":6,"date":1,"utc":true},{"year":2020,"month":6,"date":15,"utc":true},{"year":2020,"month":6,"date":30,"utc":true}],
                    "labelExpr": "utcdate(datum.value) === 1 || utcdate(datum.value) === 30 ? [utcFormat(datum.value, '%d/%m'), utcFormat(datum.value, '%Y')] : ''"}},
                "y": {"field": "v", "type": "quantitative",
                  "scale": {"domain": [-80, 20], "nice": false, "zero": false, "range": [357, 8]},
                  "axis": {"orient": "left", "title": "Change in COVID emissions (%)", "grid": true,
                    "values": [20,15,10,5,0,-5,-10,-15,-20,-25,-30,-35,-40,-45,-50,-55,-60,-65,-70,-75,-80],
                    "labelExpr": "datum.value % 20 === 0 ? '' + datum.value : ''",
                    "gridOpacity": {"condition": {"test": "datum.value % 20 !== 0", "value": 0}, "value": 1}}},
                "color": {"field": "s", "type": "nominal",
                  "scale": {"domain": ["NOx", "CO", "SO2", "OC", "BC", "NMVOC"], "range": ["#ffc0cb", "#ff8c00", "#006400", "#0000ff", "#ff0000", "#000000"]},
                  "legend": null}
              }
            },
            {
              "transform": [{"filter": "datum.v > 1000"}],
              "mark": {"type": "point"},
              "encoding": {
                "x": {"field": "t", "type": "temporal",
                  "axis": {"orient": "top", "title": null, "labels": false, "offset": -8,
                    "values": [{"year":2020,"month":1,"date":1,"utc":true},{"year":2020,"month":1,"date":15,"utc":true},{"year":2020,"month":2,"date":1,"utc":true},{"year":2020,"month":2,"date":15,"utc":true},{"year":2020,"month":3,"date":1,"utc":true},{"year":2020,"month":3,"date":15,"utc":true},{"year":2020,"month":4,"date":1,"utc":true},{"year":2020,"month":4,"date":15,"utc":true},{"year":2020,"month":5,"date":1,"utc":true},{"year":2020,"month":5,"date":15,"utc":true},{"year":2020,"month":6,"date":1,"utc":true},{"year":2020,"month":6,"date":15,"utc":true},{"year":2020,"month":6,"date":30,"utc":true}]}},
                "y": {"field": "v", "type": "quantitative",
                  "axis": {"orient": "right", "title": null, "labels": false,
                    "values": [20,15,10,5,0,-5,-10,-15,-20,-25,-30,-35,-40,-45,-50,-55,-60,-65,-70,-75,-80]}}
              }
            }
          ],
          "resolve": {"axis": {"x": "independent", "y": "independent"}}
        }
      ],
      "spacing": 18,
      "resolve": {"scale": {"color": "independent"}}
    }
  ],
  "spacing": 52,
  "center": true,
  "resolve": {"scale": {"color": "independent"}}
}
